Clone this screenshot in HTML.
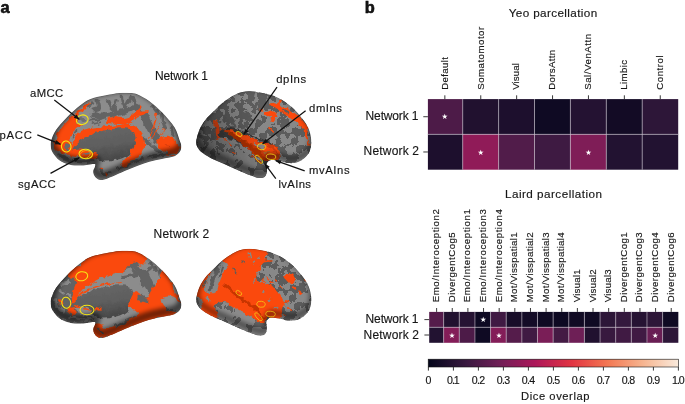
<!DOCTYPE html>
<html><head><meta charset="utf-8"><title>Figure</title>
<style>html,body{margin:0;padding:0;background:#fff}svg{display:block}text{font-family:"Liberation Sans",sans-serif;fill:#161616;stroke:#161616;stroke-width:0.15px}</style></head><body>
<svg width="685" height="404" viewBox="0 0 685 404">
<defs><linearGradient id="cb" x1="0" x2="1" y1="0" y2="0">
<stop offset="0.000" stop-color="#03051a"/>
<stop offset="0.025" stop-color="#0c0820"/>
<stop offset="0.050" stop-color="#140c27"/>
<stop offset="0.075" stop-color="#1d0f2d"/>
<stop offset="0.100" stop-color="#261333"/>
<stop offset="0.125" stop-color="#2f1639"/>
<stop offset="0.150" stop-color="#38193f"/>
<stop offset="0.175" stop-color="#421a44"/>
<stop offset="0.200" stop-color="#4d1b48"/>
<stop offset="0.225" stop-color="#571c4c"/>
<stop offset="0.250" stop-color="#611d51"/>
<stop offset="0.275" stop-color="#6b1f55"/>
<stop offset="0.300" stop-color="#761e57"/>
<stop offset="0.325" stop-color="#811d58"/>
<stop offset="0.350" stop-color="#8b1b58"/>
<stop offset="0.375" stop-color="#961a58"/>
<stop offset="0.400" stop-color="#a11959"/>
<stop offset="0.425" stop-color="#ab1759"/>
<stop offset="0.450" stop-color="#b51b56"/>
<stop offset="0.475" stop-color="#be2052"/>
<stop offset="0.500" stop-color="#c7254e"/>
<stop offset="0.525" stop-color="#d02a49"/>
<stop offset="0.550" stop-color="#d92f45"/>
<stop offset="0.575" stop-color="#e23542"/>
<stop offset="0.600" stop-color="#e54145"/>
<stop offset="0.625" stop-color="#e84c48"/>
<stop offset="0.650" stop-color="#eb584a"/>
<stop offset="0.675" stop-color="#ee644d"/>
<stop offset="0.700" stop-color="#f16f50"/>
<stop offset="0.725" stop-color="#f37b56"/>
<stop offset="0.750" stop-color="#f48661"/>
<stop offset="0.775" stop-color="#f4906b"/>
<stop offset="0.800" stop-color="#f59b76"/>
<stop offset="0.825" stop-color="#f5a681"/>
<stop offset="0.850" stop-color="#f6b18c"/>
<stop offset="0.875" stop-color="#f7bb99"/>
<stop offset="0.900" stop-color="#f7c5a6"/>
<stop offset="0.925" stop-color="#f8ceb4"/>
<stop offset="0.950" stop-color="#f9d8c2"/>
<stop offset="0.975" stop-color="#f9e1cf"/>
<stop offset="1.000" stop-color="#faebdd"/>
</linearGradient></defs>
<rect width="685" height="404" fill="#fff"/>
<text x="0.50" y="12.60" font-size="16.40" font-weight="bold" fill="#000" style="stroke:#000;stroke-width:0.55px">a</text>
<text x="364.80" y="12.80" font-size="16.40" font-weight="bold" fill="#000" style="stroke:#000;stroke-width:0.55px">b</text>
<defs><filter id="texL" x="0" y="0" width="100%" height="100%" color-interpolation-filters="sRGB"><feTurbulence type="fractalNoise" baseFrequency="0.036 0.03" numOctaves="2" seed="7" result="n"/><feColorMatrix in="n" type="matrix" values="0 0 0 0 0  0 0 0 0 0  0 0 0 0 0  1.6 0 0 0 -0.3" result="a"/><feComponentTransfer in="a" result="t"><feFuncA type="discrete" tableValues="0 1"/></feComponentTransfer><feFlood flood-color="#5c5c5c"/><feComposite in2="t" operator="in"/></filter><filter id="texT" x="0" y="0" width="100%" height="100%" color-interpolation-filters="sRGB"><feTurbulence type="fractalNoise" baseFrequency="0.038 0.026" numOctaves="2" seed="11" result="n"/><feColorMatrix in="n" type="matrix" values="0 0 0 0 0  0 0 0 0 0  0 0 0 0 0  1.6 0 0 0 -0.36" result="a"/><feComponentTransfer in="a" result="t"><feFuncA type="discrete" tableValues="0 1"/></feComponentTransfer><feFlood flood-color="#606060"/><feComposite in2="t" operator="in"/></filter><filter id="texM" x="0" y="0" width="100%" height="100%" color-interpolation-filters="sRGB"><feTurbulence type="fractalNoise" baseFrequency="0.02 0.018" numOctaves="2" seed="5" result="n"/><feColorMatrix in="n" type="matrix" values="0 0 0 0 0  0 0 0 0 0  0 0 0 0 0  1.6 0 0 0 -0.3" result="a"/><feComponentTransfer in="a" result="t"><feFuncA type="discrete" tableValues="0 1"/></feComponentTransfer><feFlood flood-color="#646464"/><feComposite in2="t" operator="in"/></filter><filter id="rag" x="-5%" y="-5%" width="110%" height="110%"><feTurbulence type="fractalNoise" baseFrequency="0.045" numOctaves="2" seed="2" result="n"/><feDisplacementMap in="SourceGraphic" in2="n" scale="22" xChannelSelector="R" yChannelSelector="G"/></filter><filter id="blur" x="-20%" y="-20%" width="140%" height="140%"><feGaussianBlur stdDeviation="9"/></filter><radialGradient id="shade1" cx="0.45" cy="0.4" r="0.62"><stop offset="0.6" stop-color="#000" stop-opacity="0"/><stop offset="1" stop-color="#000" stop-opacity="0.45"/></radialGradient><radialGradient id="shade2" cx="0.5" cy="0.4" r="0.62"><stop offset="0.6" stop-color="#000" stop-opacity="0"/><stop offset="1" stop-color="#000" stop-opacity="0.45"/></radialGradient><radialGradient id="shade3" cx="0.45" cy="0.4" r="0.62"><stop offset="0.6" stop-color="#000" stop-opacity="0"/><stop offset="1" stop-color="#000" stop-opacity="0.45"/></radialGradient><radialGradient id="shade4" cx="0.5" cy="0.4" r="0.62"><stop offset="0.6" stop-color="#000" stop-opacity="0"/><stop offset="1" stop-color="#000" stop-opacity="0.45"/></radialGradient><linearGradient id="mwall" x1="0" y1="0" x2="0.3" y2="1"><stop offset="0" stop-color="#696969"/><stop offset="0.6" stop-color="#5e5e5e"/><stop offset="1" stop-color="#4a4a4a"/></linearGradient><linearGradient id="latshade" x1="0" y1="0.6" x2="0.55" y2="0.4"><stop offset="0" stop-color="#000" stop-opacity="0.55"/><stop offset="0.45" stop-color="#000" stop-opacity="0.25"/><stop offset="1" stop-color="#000" stop-opacity="0"/></linearGradient></defs><g transform="translate(35 86) scale(0.25)"><clipPath id="clip1"><path d="M63.0,240.0 C62.3,231.5 62.5,224.7 66.0,214.0 C69.5,203.3 73.7,190.8 84.0,176.0 C94.3,161.2 112.0,141.3 128.0,125.0 C144.0,108.7 164.3,90.2 180.0,78.0 C195.7,65.8 204.8,58.8 222.0,52.0 C239.2,45.2 263.7,41.0 283.0,37.0 C302.3,33.0 321.8,29.5 338.0,28.0 C354.2,26.5 368.2,27.2 380.0,28.0 C391.8,28.8 396.0,27.5 409.0,33.0 C422.0,38.5 441.5,49.0 458.0,61.0 C474.5,73.0 491.3,87.7 508.0,105.0 C524.7,122.3 546.3,146.5 558.0,165.0 C569.7,183.5 573.5,203.8 578.0,216.0 C582.5,228.2 584.5,230.7 585.0,238.0 C585.5,245.3 585.5,252.8 581.0,260.0 C576.5,267.2 570.2,275.7 558.0,281.0 C545.8,286.3 524.7,288.3 508.0,292.0 C491.3,295.7 474.5,298.3 458.0,303.0 C441.5,307.7 425.5,313.8 409.0,320.0 C392.5,326.2 375.5,333.0 359.0,340.0 C342.5,347.0 324.8,356.0 310.0,362.0 C295.2,368.0 280.0,374.3 270.0,376.0 C260.0,377.7 255.5,375.0 250.0,372.0 C244.5,369.0 239.8,363.3 237.0,358.0 C234.2,352.7 232.5,346.0 233.0,340.0 C233.5,334.0 239.5,326.7 240.0,322.0 C240.5,317.3 244.5,312.7 236.0,312.0 C227.5,311.3 205.2,317.5 189.0,318.0 C172.8,318.5 154.3,318.5 139.0,315.0 C123.7,311.5 108.5,305.3 97.0,297.0 C85.5,288.7 75.7,274.5 70.0,265.0 C64.3,255.5 63.7,248.5 63.0,240.0Z"/></clipPath><g clip-path="url(#clip1)"><path d="M63.0,240.0 C62.3,231.5 62.5,224.7 66.0,214.0 C69.5,203.3 73.7,190.8 84.0,176.0 C94.3,161.2 112.0,141.3 128.0,125.0 C144.0,108.7 164.3,90.2 180.0,78.0 C195.7,65.8 204.8,58.8 222.0,52.0 C239.2,45.2 263.7,41.0 283.0,37.0 C302.3,33.0 321.8,29.5 338.0,28.0 C354.2,26.5 368.2,27.2 380.0,28.0 C391.8,28.8 396.0,27.5 409.0,33.0 C422.0,38.5 441.5,49.0 458.0,61.0 C474.5,73.0 491.3,87.7 508.0,105.0 C524.7,122.3 546.3,146.5 558.0,165.0 C569.7,183.5 573.5,203.8 578.0,216.0 C582.5,228.2 584.5,230.7 585.0,238.0 C585.5,245.3 585.5,252.8 581.0,260.0 C576.5,267.2 570.2,275.7 558.0,281.0 C545.8,286.3 524.7,288.3 508.0,292.0 C491.3,295.7 474.5,298.3 458.0,303.0 C441.5,307.7 425.5,313.8 409.0,320.0 C392.5,326.2 375.5,333.0 359.0,340.0 C342.5,347.0 324.8,356.0 310.0,362.0 C295.2,368.0 280.0,374.3 270.0,376.0 C260.0,377.7 255.5,375.0 250.0,372.0 C244.5,369.0 239.8,363.3 237.0,358.0 C234.2,352.7 232.5,346.0 233.0,340.0 C233.5,334.0 239.5,326.7 240.0,322.0 C240.5,317.3 244.5,312.7 236.0,312.0 C227.5,311.3 205.2,317.5 189.0,318.0 C172.8,318.5 154.3,318.5 139.0,315.0 C123.7,311.5 108.5,305.3 97.0,297.0 C85.5,288.7 75.7,274.5 70.0,265.0 C64.3,255.5 63.7,248.5 63.0,240.0Z" fill="#8c8c8c"/><g filter="url(#rag)"><path d="M250.0,62.0 C251.0,65.8 256.7,78.7 256.0,85.0 C255.3,91.3 247.7,97.5 246.0,100.0" fill="none" stroke="#646464" stroke-width="16" stroke-linecap="round" stroke-linejoin="round"/>
<path d="M256.0,85.0 L232.0,92.0" fill="none" stroke="#646464" stroke-width="12" stroke-linecap="round" stroke-linejoin="round"/>
<path d="M290.0,58.0 C291.7,61.7 295.3,73.3 300.0,80.0 C304.7,86.7 315.0,95.0 318.0,98.0" fill="none" stroke="#646464" stroke-width="14" stroke-linecap="round" stroke-linejoin="round"/>
<path d="M325.0,58.0 C323.8,61.7 319.2,73.3 318.0,80.0 C316.8,86.7 318.0,95.0 318.0,98.0" fill="none" stroke="#646464" stroke-width="12" stroke-linecap="round" stroke-linejoin="round"/>
<path d="M345.0,40.0 C346.2,45.0 349.2,62.0 352.0,70.0 C354.8,78.0 360.3,85.0 362.0,88.0" fill="none" stroke="#646464" stroke-width="13" stroke-linecap="round" stroke-linejoin="round"/>
<path d="M385.0,42.0 C382.8,46.0 375.8,58.3 372.0,66.0 C368.2,73.7 363.7,84.3 362.0,88.0" fill="none" stroke="#646464" stroke-width="13" stroke-linecap="round" stroke-linejoin="round"/>
<path d="M392.0,50.0 C395.0,55.8 404.0,74.7 410.0,85.0 C416.0,95.3 425.0,107.5 428.0,112.0" fill="none" stroke="#646464" stroke-width="20" stroke-linecap="round" stroke-linejoin="round"/>
<path d="M232.0,118.0 C240.0,117.7 263.7,117.3 280.0,116.0 C296.3,114.7 314.7,113.3 330.0,110.0 C345.3,106.7 359.5,101.0 372.0,96.0 C384.5,91.0 399.5,82.7 405.0,80.0" fill="none" stroke="#646464" stroke-width="22" stroke-linecap="round" stroke-linejoin="round"/>
<path d="M436.0,118.0 C438.7,123.3 446.3,138.8 452.0,150.0 C457.7,161.2 463.7,174.2 470.0,185.0 C476.3,195.8 486.7,210.0 490.0,215.0" fill="none" stroke="#646464" stroke-width="30" stroke-linecap="round" stroke-linejoin="round"/>
<path d="M470.0,80.0 L492.0,110.0" fill="none" stroke="#646464" stroke-width="12" stroke-linecap="round" stroke-linejoin="round"/>
<path d="M505.0,112.0 C506.2,116.7 509.5,131.2 512.0,140.0 C514.5,148.8 518.7,160.8 520.0,165.0" fill="none" stroke="#646464" stroke-width="14" stroke-linecap="round" stroke-linejoin="round"/>
<path d="M545.0,170.0 L552.0,200.0" fill="none" stroke="#646464" stroke-width="12" stroke-linecap="round" stroke-linejoin="round"/>
<path d="M440.0,215.0 C445.0,219.2 460.0,232.2 470.0,240.0 C480.0,247.8 495.0,258.3 500.0,262.0" fill="none" stroke="#646464" stroke-width="16" stroke-linecap="round" stroke-linejoin="round"/>
<path d="M215.0,80.0 L232.0,70.0" fill="none" stroke="#646464" stroke-width="10" stroke-linecap="round" stroke-linejoin="round"/>
<path d="M95.0,275.0 C102.5,278.7 124.2,292.3 140.0,297.0 C155.8,301.7 174.7,302.8 190.0,303.0 C205.3,303.2 225.0,298.8 232.0,298.0" fill="none" stroke="#646464" stroke-width="12" stroke-linecap="round" stroke-linejoin="round"/>
<path d="M262.0,330.0 C264.2,333.3 268.7,346.7 275.0,350.0 C281.3,353.3 295.8,350.0 300.0,350.0" fill="none" stroke="#646464" stroke-width="12" stroke-linecap="round" stroke-linejoin="round"/>
<path d="M330.0,330.0 C338.3,326.7 363.3,316.3 380.0,310.0 C396.7,303.7 421.7,295.0 430.0,292.0" fill="none" stroke="#646464" stroke-width="10" stroke-linecap="round" stroke-linejoin="round"/>
<path d="M450.0,285.0 C458.3,283.8 483.3,280.5 500.0,278.0 C516.7,275.5 541.7,271.3 550.0,270.0" fill="none" stroke="#646464" stroke-width="8" stroke-linecap="round" stroke-linejoin="round"/>
<path d="M76.0,240.0 C77.3,228.3 84.0,201.7 94.0,184.0 C104.0,166.3 120.7,150.0 136.0,134.0 C151.3,118.0 172.0,100.0 186.0,88.0 C200.0,76.0 215.3,63.7 220.0,62.0 C224.7,60.3 218.0,71.7 214.0,78.0 C210.0,84.3 203.0,94.3 196.0,100.0 C189.0,105.7 177.3,106.2 172.0,112.0 C166.7,117.8 163.0,128.3 164.0,135.0 C165.0,141.7 171.7,148.5 178.0,152.0 C184.3,155.5 201.3,153.7 202.0,156.0 C202.7,158.3 189.0,161.3 182.0,166.0 C175.0,170.7 166.2,177.5 160.0,184.0 C153.8,190.5 148.7,198.2 145.0,205.0 C141.3,211.8 137.8,217.5 138.0,225.0 C138.2,232.5 142.3,243.8 146.0,250.0 C149.7,256.2 154.0,256.3 160.0,262.0 C166.0,267.7 185.3,281.0 182.0,284.0 C178.7,287.0 153.0,283.0 140.0,280.0 C127.0,277.0 113.0,270.3 104.0,266.0 C95.0,261.7 90.7,258.3 86.0,254.0 C81.3,249.7 74.7,251.7 76.0,240.0Z" fill="#fa4a0a"/>
<path d="M145.0,223.0 C147.3,217.2 151.5,197.8 159.0,188.0 C166.5,178.2 177.7,170.2 190.0,164.0 C202.3,157.8 216.5,155.0 233.0,151.0 C249.5,147.0 279.7,141.8 289.0,140.0" fill="none" stroke="#8c8c8c" stroke-width="15" stroke-linecap="round" stroke-linejoin="round"/>
<path d="M150.0,205.0 L166.0,180.0" fill="none" stroke="#646464" stroke-width="7" stroke-linecap="round" stroke-linejoin="round"/>
<path d="M230.0,153.0 L262.0,145.0" fill="none" stroke="#646464" stroke-width="7" stroke-linecap="round" stroke-linejoin="round"/>
<path d="M140.0,244.0 C140.2,237.2 147.3,230.5 153.0,221.0 C158.7,211.5 164.5,195.3 174.0,187.0 C183.5,178.7 196.7,175.0 210.0,171.0 C223.3,167.0 238.7,165.0 254.0,163.0 C269.3,161.0 284.3,160.3 302.0,159.0 C319.7,157.7 343.3,154.5 360.0,155.0 C376.7,155.5 390.3,154.8 402.0,162.0 C413.7,169.2 423.7,185.0 430.0,198.0 C436.3,211.0 441.7,226.7 440.0,240.0 C438.3,253.3 428.7,267.7 420.0,278.0 C411.3,288.3 401.3,294.7 388.0,302.0 C374.7,309.3 342.7,326.0 340.0,322.0 C337.3,318.0 362.7,291.7 372.0,278.0 C381.3,264.3 391.7,252.2 396.0,240.0 C400.3,227.8 401.0,214.7 398.0,205.0 C395.0,195.3 389.3,187.2 378.0,182.0 C366.7,176.8 349.7,173.3 330.0,174.0 C310.3,174.7 281.7,180.0 260.0,186.0 C238.3,192.0 215.8,201.3 200.0,210.0 C184.2,218.7 173.0,229.3 165.0,238.0 C157.0,246.7 156.2,261.0 152.0,262.0 C147.8,263.0 139.8,250.8 140.0,244.0Z" fill="#fa4a0a"/>
<path d="M218.0,138.0 C223.3,137.3 238.8,136.3 250.0,134.0 C261.2,131.7 279.2,125.7 285.0,124.0" fill="none" stroke="#646464" stroke-width="10" stroke-linecap="round" stroke-linejoin="round"/>
<path d="M195.0,98.0 L215.0,92.0" fill="none" stroke="#8c8c8c" stroke-width="6" stroke-linecap="round" stroke-linejoin="round"/>
<path d="M150.0,258.0 C147.5,254.3 156.7,240.8 165.0,232.0 C173.3,223.2 184.2,213.3 200.0,205.0 C215.8,196.7 238.3,187.8 260.0,182.0 C281.7,176.2 309.2,171.3 330.0,170.0 C350.8,168.7 373.0,168.2 385.0,174.0 C397.0,179.8 400.2,193.2 402.0,205.0 C403.8,216.8 401.0,233.3 396.0,245.0 C391.0,256.7 381.3,267.2 372.0,275.0 C362.7,282.8 353.7,287.5 340.0,292.0 C326.3,296.5 305.0,301.3 290.0,302.0 C275.0,302.7 259.0,301.0 250.0,296.0 C241.0,291.0 241.3,278.7 236.0,272.0 C230.7,265.3 227.3,259.0 218.0,256.0 C208.7,253.0 191.3,253.7 180.0,254.0 C168.7,254.3 152.5,261.7 150.0,258.0Z" fill="url(#mwall)"/>
<path d="M150.0,258.0 C151.2,252.3 172.5,249.3 185.0,250.0 C197.5,250.7 214.2,259.0 225.0,262.0 C235.8,265.0 246.7,263.3 250.0,268.0 C253.3,272.7 251.7,286.3 245.0,290.0 C238.3,293.7 221.2,291.0 210.0,290.0 C198.8,289.0 188.0,289.3 178.0,284.0 C168.0,278.7 148.8,263.7 150.0,258.0Z" fill="#fa4a0a"/>
<ellipse cx="127" cy="243" rx="10" ry="14" fill="#6a6a6a"/>
<path d="M178.0,128.0 L198.0,140.0" fill="none" stroke="#6e6e6e" stroke-width="14" stroke-linecap="round" stroke-linejoin="round"/>
<path d="M196.0,274.0 L215.0,268.0" fill="none" stroke="#777" stroke-width="7" stroke-linecap="round" stroke-linejoin="round"/>
<path d="M285.0,140.0 C288.3,135.8 297.7,125.0 310.0,123.0 C322.3,121.0 345.8,129.3 359.0,128.0 C372.2,126.7 379.8,121.3 389.0,115.0 C398.2,108.7 407.8,95.8 414.0,90.0 C420.2,84.2 424.0,78.7 426.0,80.0 C428.0,81.3 421.8,95.0 426.0,98.0 C430.2,101.0 449.7,95.2 451.0,98.0 C452.3,100.8 441.8,110.8 434.0,115.0 C426.2,119.2 411.7,117.8 404.0,123.0 C396.3,128.2 395.0,140.7 388.0,146.0 C381.0,151.3 372.7,154.2 362.0,155.0 C351.3,155.8 336.0,152.2 324.0,151.0 C312.0,149.8 296.5,149.8 290.0,148.0 C283.5,146.2 281.7,144.2 285.0,140.0Z" fill="#fa4a0a"/>
<path d="M485.0,108.0 C484.5,113.3 484.5,128.8 482.0,140.0 C479.5,151.2 474.3,164.2 470.0,175.0 C465.7,185.8 458.3,200.0 456.0,205.0" fill="none" stroke="#fa4a0a" stroke-width="6" stroke-linecap="round" stroke-linejoin="round"/>
<path d="M498.0,150.0 C495.0,156.7 485.3,180.0 480.0,190.0 C474.7,200.0 468.3,206.7 466.0,210.0" fill="none" stroke="#fa4a0a" stroke-width="4" stroke-linecap="round" stroke-linejoin="round"/>
<path d="M520.0,170.0 L500.0,200.0" fill="none" stroke="#fa4a0a" stroke-width="3" stroke-linecap="round" stroke-linejoin="round"/>
<path d="M486.0,222.0 C488.0,215.2 501.8,208.7 510.0,205.0 C518.2,201.3 526.7,197.5 535.0,200.0 C543.3,202.5 552.7,212.3 560.0,220.0 C567.3,227.7 577.7,238.3 579.0,246.0 C580.3,253.7 573.7,261.8 568.0,266.0 C562.3,270.2 553.0,271.7 545.0,271.0 C537.0,270.3 527.8,266.2 520.0,262.0 C512.2,257.8 503.7,252.7 498.0,246.0 C492.3,239.3 484.0,228.8 486.0,222.0Z" fill="#fa4a0a"/>
<path d="M520.0,235.0 L545.0,238.0" fill="none" stroke="#d63c08" stroke-width="5" stroke-linecap="round" stroke-linejoin="round"/>
<path d="M530.0,275.0 L555.0,282.0" fill="none" stroke="#fa4a0a" stroke-width="5" stroke-linecap="round" stroke-linejoin="round"/>
<path d="M345.0,316.0 C349.2,313.3 361.7,305.2 370.0,300.0 C378.3,294.8 390.8,287.5 395.0,285.0" fill="none" stroke="#fa4a0a" stroke-width="7" stroke-linecap="round" stroke-linejoin="round"/>
<path d="M282.0,345.0 C283.0,343.7 291.3,347.8 292.0,350.0 C292.7,352.2 287.7,358.8 286.0,358.0 C284.3,357.2 281.0,346.3 282.0,345.0Z" fill="#fa4a0a"/>
<path d="M262.0,322.0 C263.0,321.0 269.7,324.3 270.0,326.0 C270.3,327.7 265.3,332.7 264.0,332.0 C262.7,331.3 261.0,323.0 262.0,322.0Z" fill="#fa4a0a"/></g><g filter="url(#blur)" opacity="0.55"><path d="M63.0,240.0 C62.3,231.5 62.5,224.7 66.0,214.0 C69.5,203.3 73.7,190.8 84.0,176.0 C94.3,161.2 112.0,141.3 128.0,125.0 C144.0,108.7 164.3,90.2 180.0,78.0 C195.7,65.8 204.8,58.8 222.0,52.0 C239.2,45.2 263.7,41.0 283.0,37.0 C302.3,33.0 321.8,29.5 338.0,28.0 C354.2,26.5 368.2,27.2 380.0,28.0 C391.8,28.8 396.0,27.5 409.0,33.0 C422.0,38.5 441.5,49.0 458.0,61.0 C474.5,73.0 491.3,87.7 508.0,105.0 C524.7,122.3 546.3,146.5 558.0,165.0 C569.7,183.5 573.5,203.8 578.0,216.0 C582.5,228.2 584.5,230.7 585.0,238.0 C585.5,245.3 585.5,252.8 581.0,260.0 C576.5,267.2 570.2,275.7 558.0,281.0 C545.8,286.3 524.7,288.3 508.0,292.0 C491.3,295.7 474.5,298.3 458.0,303.0 C441.5,307.7 425.5,313.8 409.0,320.0 C392.5,326.2 375.5,333.0 359.0,340.0 C342.5,347.0 324.8,356.0 310.0,362.0 C295.2,368.0 280.0,374.3 270.0,376.0 C260.0,377.7 255.5,375.0 250.0,372.0 C244.5,369.0 239.8,363.3 237.0,358.0 C234.2,352.7 232.5,346.0 233.0,340.0 C233.5,334.0 239.5,326.7 240.0,322.0 C240.5,317.3 244.5,312.7 236.0,312.0 C227.5,311.3 205.2,317.5 189.0,318.0 C172.8,318.5 154.3,318.5 139.0,315.0 C123.7,311.5 108.5,305.3 97.0,297.0 C85.5,288.7 75.7,274.5 70.0,265.0 C64.3,255.5 63.7,248.5 63.0,240.0Z" fill="none" stroke="#000" stroke-width="34" transform="translate(3 -19)"/></g><path d="M63.0,240.0 C62.3,231.5 62.5,224.7 66.0,214.0 C69.5,203.3 73.7,190.8 84.0,176.0 C94.3,161.2 112.0,141.3 128.0,125.0 C144.0,108.7 164.3,90.2 180.0,78.0 C195.7,65.8 204.8,58.8 222.0,52.0 C239.2,45.2 263.7,41.0 283.0,37.0 C302.3,33.0 321.8,29.5 338.0,28.0 C354.2,26.5 368.2,27.2 380.0,28.0 C391.8,28.8 396.0,27.5 409.0,33.0 C422.0,38.5 441.5,49.0 458.0,61.0 C474.5,73.0 491.3,87.7 508.0,105.0 C524.7,122.3 546.3,146.5 558.0,165.0 C569.7,183.5 573.5,203.8 578.0,216.0 C582.5,228.2 584.5,230.7 585.0,238.0 C585.5,245.3 585.5,252.8 581.0,260.0 C576.5,267.2 570.2,275.7 558.0,281.0 C545.8,286.3 524.7,288.3 508.0,292.0 C491.3,295.7 474.5,298.3 458.0,303.0 C441.5,307.7 425.5,313.8 409.0,320.0 C392.5,326.2 375.5,333.0 359.0,340.0 C342.5,347.0 324.8,356.0 310.0,362.0 C295.2,368.0 280.0,374.3 270.0,376.0 C260.0,377.7 255.5,375.0 250.0,372.0 C244.5,369.0 239.8,363.3 237.0,358.0 C234.2,352.7 232.5,346.0 233.0,340.0 C233.5,334.0 239.5,326.7 240.0,322.0 C240.5,317.3 244.5,312.7 236.0,312.0 C227.5,311.3 205.2,317.5 189.0,318.0 C172.8,318.5 154.3,318.5 139.0,315.0 C123.7,311.5 108.5,305.3 97.0,297.0 C85.5,288.7 75.7,274.5 70.0,265.0 C64.3,255.5 63.7,248.5 63.0,240.0Z" fill="none" stroke="#000" stroke-opacity="0.25" stroke-width="3"/></g><ellipse cx="189" cy="135" rx="24" ry="19" transform="rotate(-15 189 135)" fill="none" stroke="#f6e814" stroke-width="4.2"/><ellipse cx="125" cy="242" rx="19" ry="22" transform="rotate(-10 125 242)" fill="none" stroke="#f6e814" stroke-width="4.2"/><ellipse cx="203" cy="272" rx="27" ry="19" transform="rotate(5 203 272)" fill="none" stroke="#f6e814" stroke-width="4.2"/><ellipse cx="200" cy="274" rx="22" ry="15" transform="rotate(-20 200 274)" fill="none" stroke="#f6e814" stroke-width="2"/></g><g transform="translate(190 86) scale(0.25)"><clipPath id="clip2"><path d="M25.0,228.0 C24.7,221.3 25.5,214.7 28.0,205.0 C30.5,195.3 34.3,181.7 40.0,170.0 C45.7,158.3 52.7,146.7 62.0,135.0 C71.3,123.3 83.7,112.0 96.0,100.0 C108.3,88.0 121.0,74.3 136.0,63.0 C151.0,51.7 169.5,39.0 186.0,32.0 C202.5,25.0 217.7,21.7 235.0,21.0 C252.3,20.3 270.5,23.7 290.0,28.0 C309.5,32.3 332.0,37.2 352.0,47.0 C372.0,56.8 393.7,72.8 410.0,87.0 C426.3,101.2 439.2,117.8 450.0,132.0 C460.8,146.2 469.2,158.2 475.0,172.0 C480.8,185.8 483.8,201.7 485.0,215.0 C486.2,228.3 485.3,240.8 482.0,252.0 C478.7,263.2 473.7,273.2 465.0,282.0 C456.3,290.8 442.3,300.7 430.0,305.0 C417.7,309.3 403.3,308.8 391.0,308.0 C378.7,307.2 367.7,301.8 356.0,300.0 C344.3,298.2 329.3,295.0 321.0,297.0 C312.7,299.0 308.2,304.8 306.0,312.0 C303.8,319.2 309.0,331.7 308.0,340.0 C307.0,348.3 305.0,357.3 300.0,362.0 C295.0,366.7 288.0,368.8 278.0,368.0 C268.0,367.2 254.7,362.3 240.0,357.0 C225.3,351.7 206.8,343.3 190.0,336.0 C173.2,328.7 156.7,320.8 139.0,313.0 C121.3,305.2 99.8,297.3 84.0,289.0 C68.2,280.7 53.0,270.3 44.0,263.0 C35.0,255.7 33.2,250.8 30.0,245.0 C26.8,239.2 25.3,234.7 25.0,228.0Z"/></clipPath><g clip-path="url(#clip2)"><path d="M25.0,228.0 C24.7,221.3 25.5,214.7 28.0,205.0 C30.5,195.3 34.3,181.7 40.0,170.0 C45.7,158.3 52.7,146.7 62.0,135.0 C71.3,123.3 83.7,112.0 96.0,100.0 C108.3,88.0 121.0,74.3 136.0,63.0 C151.0,51.7 169.5,39.0 186.0,32.0 C202.5,25.0 217.7,21.7 235.0,21.0 C252.3,20.3 270.5,23.7 290.0,28.0 C309.5,32.3 332.0,37.2 352.0,47.0 C372.0,56.8 393.7,72.8 410.0,87.0 C426.3,101.2 439.2,117.8 450.0,132.0 C460.8,146.2 469.2,158.2 475.0,172.0 C480.8,185.8 483.8,201.7 485.0,215.0 C486.2,228.3 485.3,240.8 482.0,252.0 C478.7,263.2 473.7,273.2 465.0,282.0 C456.3,290.8 442.3,300.7 430.0,305.0 C417.7,309.3 403.3,308.8 391.0,308.0 C378.7,307.2 367.7,301.8 356.0,300.0 C344.3,298.2 329.3,295.0 321.0,297.0 C312.7,299.0 308.2,304.8 306.0,312.0 C303.8,319.2 309.0,331.7 308.0,340.0 C307.0,348.3 305.0,357.3 300.0,362.0 C295.0,366.7 288.0,368.8 278.0,368.0 C268.0,367.2 254.7,362.3 240.0,357.0 C225.3,351.7 206.8,343.3 190.0,336.0 C173.2,328.7 156.7,320.8 139.0,313.0 C121.3,305.2 99.8,297.3 84.0,289.0 C68.2,280.7 53.0,270.3 44.0,263.0 C35.0,255.7 33.2,250.8 30.0,245.0 C26.8,239.2 25.3,234.7 25.0,228.0Z" fill="#888888"/><g filter="url(#rag)"><g><rect x="0" y="0" width="620" height="400" fill="#000" filter="url(#texL)"/></g>
<path d="M51.8,204.7 C48.3,203.4 36.4,197.9 30.9,196.9 C25.4,195.9 20.7,198.5 18.7,198.8" fill="none" stroke="#5c5c5c" stroke-width="12.6235" stroke-linecap="round" stroke-linejoin="round"/>
<path d="M226.4,135.7 C227.1,133.1 230.5,125.4 230.9,120.4 C231.3,115.4 229.1,108.1 228.8,105.7" fill="none" stroke="#5c5c5c" stroke-width="14.9739" stroke-linecap="round" stroke-linejoin="round"/>
<path d="M178.8,160.6 C177.8,157.8 175.8,149.9 173.2,143.7 C170.5,137.5 164.5,126.8 162.7,123.4" fill="none" stroke="#5c5c5c" stroke-width="14.2083" stroke-linecap="round" stroke-linejoin="round"/>
<path d="M24.6,260.0 C22.6,261.9 17.7,267.5 12.4,271.4 C7.2,275.3 -3.8,281.4 -7.0,283.4" fill="none" stroke="#5c5c5c" stroke-width="10.8076" stroke-linecap="round" stroke-linejoin="round"/>
<path d="M169.7,60.5 C169.2,57.0 168.9,46.3 166.9,39.5 C165.0,32.6 159.6,22.8 158.1,19.5" fill="none" stroke="#5c5c5c" stroke-width="14.5266" stroke-linecap="round" stroke-linejoin="round"/>
<path d="M296.7,60.2 C297.9,57.9 303.0,50.8 303.8,46.5 C304.7,42.1 302.0,36.2 301.6,34.1" fill="none" stroke="#5c5c5c" stroke-width="9.81581" stroke-linecap="round" stroke-linejoin="round"/>
<path d="M165.0,140.6 C163.6,138.1 159.5,130.9 156.3,125.6 C153.1,120.3 147.6,111.6 145.8,108.8" fill="none" stroke="#5c5c5c" stroke-width="11.3152" stroke-linecap="round" stroke-linejoin="round"/>
<path d="M257.6,88.7 C260.0,84.7 267.9,71.8 272.2,65.0 C276.5,58.2 281.6,50.9 283.4,48.1" fill="none" stroke="#5c5c5c" stroke-width="14.1384" stroke-linecap="round" stroke-linejoin="round"/>
<path d="M249.1,49.5 C249.7,46.3 250.7,37.6 252.9,30.0 C255.1,22.4 260.9,8.3 262.5,3.9" fill="none" stroke="#5c5c5c" stroke-width="12.4146" stroke-linecap="round" stroke-linejoin="round"/>
<path d="M144.5,145.8 C143.2,144.2 137.9,140.6 136.6,136.5 C135.3,132.4 136.9,123.8 136.9,121.3" fill="none" stroke="#5c5c5c" stroke-width="14.1237" stroke-linecap="round" stroke-linejoin="round"/>
<path d="M134.1,184.2 C131.4,182.5 122.0,177.9 118.2,174.3 C114.5,170.6 112.6,164.1 111.5,162.0" fill="none" stroke="#5c5c5c" stroke-width="13.6128" stroke-linecap="round" stroke-linejoin="round"/>
<path d="M35.8,275.2 C33.1,276.3 25.0,281.4 19.6,282.1 C14.3,282.7 6.1,279.5 3.4,279.0" fill="none" stroke="#5c5c5c" stroke-width="14.2854" stroke-linecap="round" stroke-linejoin="round"/>
<path d="M143.9,197.3 C140.5,197.1 129.9,197.0 123.3,196.3 C116.7,195.6 107.7,193.6 104.5,193.1" fill="none" stroke="#5c5c5c" stroke-width="9.18827" stroke-linecap="round" stroke-linejoin="round"/>
<path d="M150.3,226.2 C147.1,225.4 138.9,222.5 131.2,221.2 C123.6,220.0 108.8,219.2 104.3,218.7" fill="none" stroke="#5c5c5c" stroke-width="10.883" stroke-linecap="round" stroke-linejoin="round"/>
<path d="M93.5,146.3 C91.2,144.8 84.5,141.8 79.4,137.3 C74.3,132.9 65.6,122.5 62.8,119.5" fill="none" stroke="#5c5c5c" stroke-width="12.5739" stroke-linecap="round" stroke-linejoin="round"/>
<path d="M120.6,143.4 C118.7,141.2 114.4,134.7 108.9,130.1 C103.3,125.6 91.1,118.7 87.5,116.4" fill="none" stroke="#5c5c5c" stroke-width="10.4258" stroke-linecap="round" stroke-linejoin="round"/>
<path d="M178.6,176.9 C176.4,175.4 170.3,171.4 165.6,168.0 C160.9,164.6 152.9,158.5 150.3,156.5" fill="none" stroke="#5c5c5c" stroke-width="12.4798" stroke-linecap="round" stroke-linejoin="round"/>
<path d="M48.3,258.9 C45.9,260.7 39.5,266.6 34.1,269.3 C28.7,271.9 18.9,273.9 15.8,274.8" fill="none" stroke="#5c5c5c" stroke-width="13.0757" stroke-linecap="round" stroke-linejoin="round"/>
<path d="M150.1,233.4 C147.2,235.6 138.3,242.3 132.7,246.3 C127.0,250.3 118.9,255.6 116.1,257.4" fill="none" stroke="#5c5c5c" stroke-width="14.7798" stroke-linecap="round" stroke-linejoin="round"/>
<path d="M89.7,187.1 C86.9,186.0 77.7,182.0 72.8,180.1 C67.8,178.1 61.9,176.2 59.8,175.5" fill="none" stroke="#5c5c5c" stroke-width="11.2149" stroke-linecap="round" stroke-linejoin="round"/>
<path d="M212.4,171.1 C211.3,168.4 207.2,161.4 206.0,155.0 C204.8,148.7 205.3,136.6 205.2,132.9" fill="none" stroke="#5c5c5c" stroke-width="13.411" stroke-linecap="round" stroke-linejoin="round"/>
<path d="M118.1,204.0 C114.9,204.1 104.7,203.9 98.8,204.7 C93.0,205.6 85.7,208.1 83.1,208.8" fill="none" stroke="#5c5c5c" stroke-width="13.1884" stroke-linecap="round" stroke-linejoin="round"/>
<path d="M356.0,53.0 C359.3,50.7 369.3,54.0 371.0,58.0 C372.7,62.0 359.5,69.7 366.0,77.0 C372.5,84.3 396.8,92.8 410.0,102.0 C423.2,111.2 434.7,121.2 445.0,132.0 C455.3,142.8 468.2,157.0 472.0,167.0 C475.8,177.0 470.5,185.5 468.0,192.0 C465.5,198.5 459.5,209.7 457.0,206.0 C454.5,202.3 458.3,179.8 453.0,170.0 C447.7,160.2 435.2,155.2 425.0,147.0 C414.8,138.8 404.2,129.3 392.0,121.0 C379.8,112.7 363.7,104.5 352.0,97.0 C340.3,89.5 325.2,80.8 322.0,76.0 C318.8,71.2 328.2,68.7 333.0,68.0 C337.8,67.3 347.2,74.5 351.0,72.0 C354.8,69.5 352.7,55.3 356.0,53.0Z" fill="#fa4a0a"/>
<path d="M372.0,98.0 L392.0,110.0" fill="none" stroke="#5c5c5c" stroke-width="6" stroke-linecap="round" stroke-linejoin="round"/>
<path d="M430.0,150.0 L440.0,160.0" fill="none" stroke="#888888" stroke-width="6" stroke-linecap="round" stroke-linejoin="round"/>
<path d="M296.0,105.0 C297.2,101.3 308.5,98.2 315.0,98.0 C321.5,97.8 329.2,100.7 335.0,104.0 C340.8,107.3 349.2,112.8 350.0,118.0 C350.8,123.2 344.7,131.3 340.0,135.0 C335.3,138.7 324.0,141.7 322.0,140.0 C320.0,138.3 330.3,128.3 328.0,125.0 C325.7,121.7 313.3,123.3 308.0,120.0 C302.7,116.7 294.8,108.7 296.0,105.0Z" fill="#fa4a0a"/>
<path d="M312.0,165.0 L330.0,180.0" fill="none" stroke="#fa4a0a" stroke-width="5" stroke-linecap="round" stroke-linejoin="round"/>
<path d="M285.0,92.0 L290.0,98.0" fill="none" stroke="#fa4a0a" stroke-width="6" stroke-linecap="round" stroke-linejoin="round"/>
<path d="M462.0,192.0 L478.0,235.0" fill="none" stroke="#fa4a0a" stroke-width="7" stroke-linecap="round" stroke-linejoin="round"/>
<path d="M104.0,142.0 C105.0,147.5 108.3,163.3 110.0,175.0 C111.7,186.7 113.3,205.8 114.0,212.0" fill="none" stroke="#e4440c" stroke-width="16" stroke-linecap="round" stroke-linejoin="round"/>
<path d="M108.0,205.0 L128.0,218.0" fill="none" stroke="#e4440c" stroke-width="11" stroke-linecap="round" stroke-linejoin="round"/>
<path d="M122.0,165.0 L128.0,195.0" fill="none" stroke="#fa4a0a" stroke-width="5" stroke-linecap="round" stroke-linejoin="round"/>
<path d="M120.0,180.0 C126.7,174.5 146.7,171.2 160.0,172.0 C173.3,172.8 185.0,178.7 200.0,185.0 C215.0,191.3 233.3,202.2 250.0,210.0 C266.7,217.8 285.8,227.8 300.0,232.0 C314.2,236.2 326.3,230.0 335.0,235.0 C343.7,240.0 351.2,251.5 352.0,262.0 C352.8,272.5 347.7,289.7 340.0,298.0 C332.3,306.3 317.7,313.3 306.0,312.0 C294.3,310.7 283.5,300.3 270.0,290.0 C256.5,279.7 241.7,262.5 225.0,250.0 C208.3,237.5 187.5,222.5 170.0,215.0 C152.5,207.5 128.3,210.8 120.0,205.0 C111.7,199.2 113.3,185.5 120.0,180.0Z" fill="#3e3e3e"/>
<path d="M140.0,172.0 C143.7,171.0 152.5,172.7 160.0,174.0 C167.5,175.3 174.2,176.0 185.0,180.0 C195.8,184.0 212.2,192.2 225.0,198.0 C237.8,203.8 249.5,209.7 262.0,215.0 C274.5,220.3 288.7,228.2 300.0,230.0 C311.3,231.8 321.7,222.7 330.0,226.0 C338.3,229.3 345.3,239.7 350.0,250.0 C354.7,260.3 360.5,280.0 358.0,288.0 C355.5,296.0 342.7,296.0 335.0,298.0 C327.3,300.0 318.5,300.0 312.0,300.0 C305.5,300.0 303.0,300.7 296.0,298.0 C289.0,295.3 279.3,290.0 270.0,284.0 C260.7,278.0 250.8,271.0 240.0,262.0 C229.2,253.0 216.3,239.7 205.0,230.0 C193.7,220.3 181.2,211.0 172.0,204.0 C162.8,197.0 155.7,192.0 150.0,188.0 C144.3,184.0 139.7,182.7 138.0,180.0 C136.3,177.3 136.3,173.0 140.0,172.0Z" fill="#d03c08"/>
<path d="M168.0,184.0 C175.0,187.2 194.3,195.7 210.0,203.0 C225.7,210.3 246.2,220.2 262.0,228.0 C277.8,235.8 292.8,242.7 305.0,250.0 C317.2,257.3 330.0,268.3 335.0,272.0" fill="none" stroke="#fa4a0a" stroke-width="17" stroke-linecap="round" stroke-linejoin="round"/>
<path d="M165.0,194.0 C172.2,198.7 192.5,211.3 208.0,222.0 C223.5,232.7 243.0,246.3 258.0,258.0 C273.0,269.7 291.3,286.3 298.0,292.0" fill="none" stroke="#b43206" stroke-width="16" stroke-linecap="round" stroke-linejoin="round"/>
<path d="M150.0,170.0 C159.7,172.3 188.8,177.7 208.0,184.0 C227.2,190.3 245.2,200.7 265.0,208.0 C284.8,215.3 316.7,224.7 327.0,228.0" fill="none" stroke="#3a3a3a" stroke-width="8" stroke-linecap="round" stroke-linejoin="round"/>
<path d="M255.0,228.0 L270.0,236.0" fill="none" stroke="#888888" stroke-width="7" stroke-linecap="round" stroke-linejoin="round"/>
<path d="M272.0,238.0 C272.7,234.3 281.3,231.7 286.0,232.0 C290.7,232.3 298.0,236.7 300.0,240.0 C302.0,243.3 301.0,249.7 298.0,252.0 C295.0,254.3 286.3,256.3 282.0,254.0 C277.7,251.7 271.3,241.7 272.0,238.0Z" fill="#8a8a8a"/>
<path d="M300.0,262.0 L318.0,262.0" fill="none" stroke="#b0642a" stroke-width="6" stroke-linecap="round" stroke-linejoin="round"/>
<path d="M340.0,245.0 L352.0,268.0" fill="none" stroke="#fa4a0a" stroke-width="8" stroke-linecap="round" stroke-linejoin="round"/>
<path d="M118.0,208.0 C133.0,205.2 153.0,208.8 170.0,215.0 C187.0,221.2 204.7,234.2 220.0,245.0 C235.3,255.8 248.7,268.8 262.0,280.0 C275.3,291.2 292.0,301.7 300.0,312.0 C308.0,322.3 309.7,333.2 310.0,342.0 C310.3,350.8 307.3,360.0 302.0,365.0 C296.7,370.0 288.3,372.8 278.0,372.0 C267.7,371.2 254.7,365.3 240.0,360.0 C225.3,354.7 206.8,347.2 190.0,340.0 C173.2,332.8 156.7,324.8 139.0,317.0 C121.3,309.2 97.2,301.2 84.0,293.0 C70.8,284.8 60.7,278.2 60.0,268.0 C59.3,257.8 70.3,242.0 80.0,232.0 C89.7,222.0 103.0,210.8 118.0,208.0Z" fill="#8a8a8a"/>
<clipPath id="tclip2"><path d="M118.0,208.0 C133.0,205.2 153.0,208.8 170.0,215.0 C187.0,221.2 204.7,234.2 220.0,245.0 C235.3,255.8 248.7,268.8 262.0,280.0 C275.3,291.2 292.0,301.7 300.0,312.0 C308.0,322.3 309.7,333.2 310.0,342.0 C310.3,350.8 307.3,360.0 302.0,365.0 C296.7,370.0 288.3,372.8 278.0,372.0 C267.7,371.2 254.7,365.3 240.0,360.0 C225.3,354.7 206.8,347.2 190.0,340.0 C173.2,332.8 156.7,324.8 139.0,317.0 C121.3,309.2 97.2,301.2 84.0,293.0 C70.8,284.8 60.7,278.2 60.0,268.0 C59.3,257.8 70.3,242.0 80.0,232.0 C89.7,222.0 103.0,210.8 118.0,208.0Z"/></clipPath>
<g clip-path="url(#tclip2)"><rect x="0" y="0" width="620" height="400" fill="#000" filter="url(#texT)"/></g>
<path d="M125.0,212.0 C132.5,213.3 154.2,213.7 170.0,220.0 C185.8,226.3 204.7,239.3 220.0,250.0 C235.3,260.7 249.0,273.3 262.0,284.0 C275.0,294.7 292.0,309.0 298.0,314.0" fill="none" stroke="#8e8e8e" stroke-width="5" stroke-linecap="round" stroke-linejoin="round"/>
<path d="M140.0,215.0 L160.0,235.0" fill="none" stroke="#fa4a0a" stroke-width="6" stroke-linecap="round" stroke-linejoin="round"/>
<path d="M165.0,265.0 L185.0,272.0" fill="none" stroke="#fa4a0a" stroke-width="4" stroke-linecap="round" stroke-linejoin="round"/>
<path d="M250.0,282.0 L285.0,310.0" fill="none" stroke="#cc3606" stroke-width="5" stroke-linecap="round" stroke-linejoin="round"/>
<rect x="0" y="0" width="520" height="404" fill="url(#latshade)"/></g><g filter="url(#blur)" opacity="0.4"><path d="M25.0,228.0 C24.7,221.3 25.5,214.7 28.0,205.0 C30.5,195.3 34.3,181.7 40.0,170.0 C45.7,158.3 52.7,146.7 62.0,135.0 C71.3,123.3 83.7,112.0 96.0,100.0 C108.3,88.0 121.0,74.3 136.0,63.0 C151.0,51.7 169.5,39.0 186.0,32.0 C202.5,25.0 217.7,21.7 235.0,21.0 C252.3,20.3 270.5,23.7 290.0,28.0 C309.5,32.3 332.0,37.2 352.0,47.0 C372.0,56.8 393.7,72.8 410.0,87.0 C426.3,101.2 439.2,117.8 450.0,132.0 C460.8,146.2 469.2,158.2 475.0,172.0 C480.8,185.8 483.8,201.7 485.0,215.0 C486.2,228.3 485.3,240.8 482.0,252.0 C478.7,263.2 473.7,273.2 465.0,282.0 C456.3,290.8 442.3,300.7 430.0,305.0 C417.7,309.3 403.3,308.8 391.0,308.0 C378.7,307.2 367.7,301.8 356.0,300.0 C344.3,298.2 329.3,295.0 321.0,297.0 C312.7,299.0 308.2,304.8 306.0,312.0 C303.8,319.2 309.0,331.7 308.0,340.0 C307.0,348.3 305.0,357.3 300.0,362.0 C295.0,366.7 288.0,368.8 278.0,368.0 C268.0,367.2 254.7,362.3 240.0,357.0 C225.3,351.7 206.8,343.3 190.0,336.0 C173.2,328.7 156.7,320.8 139.0,313.0 C121.3,305.2 99.8,297.3 84.0,289.0 C68.2,280.7 53.0,270.3 44.0,263.0 C35.0,255.7 33.2,250.8 30.0,245.0 C26.8,239.2 25.3,234.7 25.0,228.0Z" fill="none" stroke="#000" stroke-width="26" transform="translate(3 -19)"/></g><path d="M25.0,228.0 C24.7,221.3 25.5,214.7 28.0,205.0 C30.5,195.3 34.3,181.7 40.0,170.0 C45.7,158.3 52.7,146.7 62.0,135.0 C71.3,123.3 83.7,112.0 96.0,100.0 C108.3,88.0 121.0,74.3 136.0,63.0 C151.0,51.7 169.5,39.0 186.0,32.0 C202.5,25.0 217.7,21.7 235.0,21.0 C252.3,20.3 270.5,23.7 290.0,28.0 C309.5,32.3 332.0,37.2 352.0,47.0 C372.0,56.8 393.7,72.8 410.0,87.0 C426.3,101.2 439.2,117.8 450.0,132.0 C460.8,146.2 469.2,158.2 475.0,172.0 C480.8,185.8 483.8,201.7 485.0,215.0 C486.2,228.3 485.3,240.8 482.0,252.0 C478.7,263.2 473.7,273.2 465.0,282.0 C456.3,290.8 442.3,300.7 430.0,305.0 C417.7,309.3 403.3,308.8 391.0,308.0 C378.7,307.2 367.7,301.8 356.0,300.0 C344.3,298.2 329.3,295.0 321.0,297.0 C312.7,299.0 308.2,304.8 306.0,312.0 C303.8,319.2 309.0,331.7 308.0,340.0 C307.0,348.3 305.0,357.3 300.0,362.0 C295.0,366.7 288.0,368.8 278.0,368.0 C268.0,367.2 254.7,362.3 240.0,357.0 C225.3,351.7 206.8,343.3 190.0,336.0 C173.2,328.7 156.7,320.8 139.0,313.0 C121.3,305.2 99.8,297.3 84.0,289.0 C68.2,280.7 53.0,270.3 44.0,263.0 C35.0,255.7 33.2,250.8 30.0,245.0 C26.8,239.2 25.3,234.7 25.0,228.0Z" fill="none" stroke="#000" stroke-opacity="0.25" stroke-width="3"/></g><ellipse cx="196" cy="192" rx="13" ry="8" transform="rotate(35 196 192)" fill="none" stroke="#f6e814" stroke-width="2.8"/><ellipse cx="286" cy="243" rx="17" ry="12" transform="rotate(10 286 243)" fill="none" stroke="#f6e814" stroke-width="2.8"/><ellipse cx="324" cy="283" rx="19" ry="11" transform="rotate(5 324 283)" fill="none" stroke="#f6e814" stroke-width="2.8"/><ellipse cx="276" cy="293" rx="20" ry="8" transform="rotate(50 276 293)" fill="none" stroke="#f6e814" stroke-width="2.8"/></g><g transform="translate(33 243) scale(0.25)"><clipPath id="clip3"><path d="M71.0,244.0 C70.3,235.5 70.5,228.7 74.0,218.0 C77.5,207.3 81.7,194.8 92.0,180.0 C102.3,165.2 120.0,145.3 136.0,129.0 C152.0,112.7 172.3,94.2 188.0,82.0 C203.7,69.8 212.8,62.8 230.0,56.0 C247.2,49.2 271.7,45.0 291.0,41.0 C310.3,37.0 329.8,33.5 346.0,32.0 C362.2,30.5 376.2,31.2 388.0,32.0 C399.8,32.8 404.0,31.5 417.0,37.0 C430.0,42.5 449.5,53.0 466.0,65.0 C482.5,77.0 499.3,91.7 516.0,109.0 C532.7,126.3 554.3,150.5 566.0,169.0 C577.7,187.5 581.5,207.8 586.0,220.0 C590.5,232.2 592.5,234.7 593.0,242.0 C593.5,249.3 593.5,256.8 589.0,264.0 C584.5,271.2 578.2,279.7 566.0,285.0 C553.8,290.3 532.7,292.3 516.0,296.0 C499.3,299.7 482.5,302.3 466.0,307.0 C449.5,311.7 433.5,317.8 417.0,324.0 C400.5,330.2 383.5,337.0 367.0,344.0 C350.5,351.0 332.8,360.0 318.0,366.0 C303.2,372.0 288.0,378.3 278.0,380.0 C268.0,381.7 263.5,379.0 258.0,376.0 C252.5,373.0 247.8,367.3 245.0,362.0 C242.2,356.7 240.5,350.0 241.0,344.0 C241.5,338.0 247.5,330.7 248.0,326.0 C248.5,321.3 252.5,316.7 244.0,316.0 C235.5,315.3 213.2,321.5 197.0,322.0 C180.8,322.5 162.3,322.5 147.0,319.0 C131.7,315.5 116.5,309.3 105.0,301.0 C93.5,292.7 83.7,278.5 78.0,269.0 C72.3,259.5 71.7,252.5 71.0,244.0Z"/></clipPath><g clip-path="url(#clip3)"><path d="M71.0,244.0 C70.3,235.5 70.5,228.7 74.0,218.0 C77.5,207.3 81.7,194.8 92.0,180.0 C102.3,165.2 120.0,145.3 136.0,129.0 C152.0,112.7 172.3,94.2 188.0,82.0 C203.7,69.8 212.8,62.8 230.0,56.0 C247.2,49.2 271.7,45.0 291.0,41.0 C310.3,37.0 329.8,33.5 346.0,32.0 C362.2,30.5 376.2,31.2 388.0,32.0 C399.8,32.8 404.0,31.5 417.0,37.0 C430.0,42.5 449.5,53.0 466.0,65.0 C482.5,77.0 499.3,91.7 516.0,109.0 C532.7,126.3 554.3,150.5 566.0,169.0 C577.7,187.5 581.5,207.8 586.0,220.0 C590.5,232.2 592.5,234.7 593.0,242.0 C593.5,249.3 593.5,256.8 589.0,264.0 C584.5,271.2 578.2,279.7 566.0,285.0 C553.8,290.3 532.7,292.3 516.0,296.0 C499.3,299.7 482.5,302.3 466.0,307.0 C449.5,311.7 433.5,317.8 417.0,324.0 C400.5,330.2 383.5,337.0 367.0,344.0 C350.5,351.0 332.8,360.0 318.0,366.0 C303.2,372.0 288.0,378.3 278.0,380.0 C268.0,381.7 263.5,379.0 258.0,376.0 C252.5,373.0 247.8,367.3 245.0,362.0 C242.2,356.7 240.5,350.0 241.0,344.0 C241.5,338.0 247.5,330.7 248.0,326.0 C248.5,321.3 252.5,316.7 244.0,316.0 C235.5,315.3 213.2,321.5 197.0,322.0 C180.8,322.5 162.3,322.5 147.0,319.0 C131.7,315.5 116.5,309.3 105.0,301.0 C93.5,292.7 83.7,278.5 78.0,269.0 C72.3,259.5 71.7,252.5 71.0,244.0Z" fill="#8c8c8c"/><g filter="url(#rag)"><path d="M250.0,62.0 C251.0,65.8 256.7,78.7 256.0,85.0 C255.3,91.3 247.7,97.5 246.0,100.0" fill="none" stroke="#646464" stroke-width="16" stroke-linecap="round" stroke-linejoin="round"/>
<path d="M256.0,85.0 L232.0,92.0" fill="none" stroke="#646464" stroke-width="12" stroke-linecap="round" stroke-linejoin="round"/>
<path d="M290.0,58.0 C291.7,61.7 295.3,73.3 300.0,80.0 C304.7,86.7 315.0,95.0 318.0,98.0" fill="none" stroke="#646464" stroke-width="14" stroke-linecap="round" stroke-linejoin="round"/>
<path d="M325.0,58.0 C323.8,61.7 319.2,73.3 318.0,80.0 C316.8,86.7 318.0,95.0 318.0,98.0" fill="none" stroke="#646464" stroke-width="12" stroke-linecap="round" stroke-linejoin="round"/>
<path d="M345.0,40.0 C346.2,45.0 349.2,62.0 352.0,70.0 C354.8,78.0 360.3,85.0 362.0,88.0" fill="none" stroke="#646464" stroke-width="13" stroke-linecap="round" stroke-linejoin="round"/>
<path d="M385.0,42.0 C382.8,46.0 375.8,58.3 372.0,66.0 C368.2,73.7 363.7,84.3 362.0,88.0" fill="none" stroke="#646464" stroke-width="13" stroke-linecap="round" stroke-linejoin="round"/>
<path d="M392.0,50.0 C395.0,55.8 404.0,74.7 410.0,85.0 C416.0,95.3 425.0,107.5 428.0,112.0" fill="none" stroke="#646464" stroke-width="20" stroke-linecap="round" stroke-linejoin="round"/>
<path d="M232.0,118.0 C240.0,117.7 263.7,117.3 280.0,116.0 C296.3,114.7 314.7,113.3 330.0,110.0 C345.3,106.7 359.5,101.0 372.0,96.0 C384.5,91.0 399.5,82.7 405.0,80.0" fill="none" stroke="#646464" stroke-width="22" stroke-linecap="round" stroke-linejoin="round"/>
<path d="M436.0,118.0 C438.7,123.3 446.3,138.8 452.0,150.0 C457.7,161.2 463.7,174.2 470.0,185.0 C476.3,195.8 486.7,210.0 490.0,215.0" fill="none" stroke="#646464" stroke-width="30" stroke-linecap="round" stroke-linejoin="round"/>
<path d="M470.0,80.0 L492.0,110.0" fill="none" stroke="#646464" stroke-width="12" stroke-linecap="round" stroke-linejoin="round"/>
<path d="M505.0,112.0 C506.2,116.7 509.5,131.2 512.0,140.0 C514.5,148.8 518.7,160.8 520.0,165.0" fill="none" stroke="#646464" stroke-width="14" stroke-linecap="round" stroke-linejoin="round"/>
<path d="M545.0,170.0 L552.0,200.0" fill="none" stroke="#646464" stroke-width="12" stroke-linecap="round" stroke-linejoin="round"/>
<path d="M440.0,215.0 C445.0,219.2 460.0,232.2 470.0,240.0 C480.0,247.8 495.0,258.3 500.0,262.0" fill="none" stroke="#646464" stroke-width="16" stroke-linecap="round" stroke-linejoin="round"/>
<path d="M215.0,80.0 L232.0,70.0" fill="none" stroke="#646464" stroke-width="10" stroke-linecap="round" stroke-linejoin="round"/>
<path d="M95.0,275.0 C102.5,278.7 124.2,292.3 140.0,297.0 C155.8,301.7 174.7,302.8 190.0,303.0 C205.3,303.2 225.0,298.8 232.0,298.0" fill="none" stroke="#646464" stroke-width="12" stroke-linecap="round" stroke-linejoin="round"/>
<path d="M262.0,330.0 C264.2,333.3 268.7,346.7 275.0,350.0 C281.3,353.3 295.8,350.0 300.0,350.0" fill="none" stroke="#646464" stroke-width="12" stroke-linecap="round" stroke-linejoin="round"/>
<path d="M330.0,330.0 C338.3,326.7 363.3,316.3 380.0,310.0 C396.7,303.7 421.7,295.0 430.0,292.0" fill="none" stroke="#646464" stroke-width="10" stroke-linecap="round" stroke-linejoin="round"/>
<path d="M450.0,285.0 C458.3,283.8 483.3,280.5 500.0,278.0 C516.7,275.5 541.7,271.3 550.0,270.0" fill="none" stroke="#646464" stroke-width="8" stroke-linecap="round" stroke-linejoin="round"/>
<path d="M70.0,240.0 C70.3,229.7 73.0,213.3 78.0,200.0 C83.0,186.7 90.7,171.7 100.0,160.0 C109.3,148.3 124.0,136.7 134.0,130.0 C144.0,123.3 153.2,116.7 160.0,120.0 C166.8,123.3 174.2,136.7 175.0,150.0 C175.8,163.3 167.5,183.3 165.0,200.0 C162.5,216.7 155.8,235.8 160.0,250.0 C164.2,264.2 177.3,276.7 190.0,285.0 C202.7,293.3 228.3,295.5 236.0,300.0 C243.7,304.5 243.8,309.0 236.0,312.0 C228.2,315.0 205.2,317.7 189.0,318.0 C172.8,318.3 153.8,317.8 139.0,314.0 C124.2,310.2 110.5,303.7 100.0,295.0 C89.5,286.3 81.0,271.2 76.0,262.0 C71.0,252.8 69.7,250.3 70.0,240.0Z" fill="#646464"/>
<path d="M110.0,165.0 L140.0,158.0" fill="none" stroke="#8c8c8c" stroke-width="14" stroke-linecap="round" stroke-linejoin="round"/>
<path d="M108.0,190.0 L122.0,200.0" fill="none" stroke="#8c8c8c" stroke-width="12" stroke-linecap="round" stroke-linejoin="round"/>
<path d="M88.0,228.0 C90.0,232.5 93.8,246.3 100.0,255.0 C106.2,263.7 120.8,275.8 125.0,280.0" fill="none" stroke="#8c8c8c" stroke-width="13" stroke-linecap="round" stroke-linejoin="round"/>
<path d="M140.0,205.0 L150.0,215.0" fill="none" stroke="#8c8c8c" stroke-width="10" stroke-linecap="round" stroke-linejoin="round"/>
<path d="M150.0,296.0 C158.3,297.7 186.3,304.7 200.0,306.0 C213.7,307.3 226.7,304.3 232.0,304.0" fill="none" stroke="#8c8c8c" stroke-width="9" stroke-linecap="round" stroke-linejoin="round"/>
<path d="M120.0,300.0 L135.0,306.0" fill="none" stroke="#8c8c8c" stroke-width="7" stroke-linecap="round" stroke-linejoin="round"/>
<path d="M224.0,46.0 C236.3,40.0 264.0,34.3 283.0,30.0 C302.0,25.7 318.5,21.3 338.0,20.0 C357.5,18.7 384.3,19.8 400.0,22.0 C415.7,24.2 422.8,28.0 432.0,33.0 C441.2,38.0 451.7,45.2 455.0,52.0 C458.3,58.8 455.5,67.7 452.0,74.0 C448.5,80.3 441.2,89.3 434.0,90.0 C426.8,90.7 417.3,78.0 409.0,78.0 C400.7,78.0 392.3,83.8 384.0,90.0 C375.7,96.2 371.3,108.3 359.0,115.0 C346.7,121.7 326.5,125.0 310.0,130.0 C293.5,135.0 271.8,140.0 260.0,145.0 C248.2,150.0 248.3,154.2 239.0,160.0 C229.7,165.8 212.8,173.3 204.0,180.0 C195.2,186.7 191.7,196.7 186.0,200.0 C180.3,203.3 173.3,203.3 170.0,200.0 C166.7,196.7 164.5,186.7 166.0,180.0 C167.5,173.3 178.5,165.8 179.0,160.0 C179.5,154.2 174.8,148.3 169.0,145.0 C163.2,141.7 149.0,144.2 144.0,140.0 C139.0,135.8 136.5,126.7 139.0,120.0 C141.5,113.3 151.5,105.0 159.0,100.0 C166.5,95.0 175.7,95.7 184.0,90.0 C192.3,84.3 202.3,73.3 209.0,66.0 C215.7,58.7 211.7,52.0 224.0,46.0Z" fill="#fa4a0a"/>
<path d="M184.0,150.0 C183.3,154.2 182.3,165.8 180.0,175.0 C177.7,184.2 172.8,194.5 170.0,205.0 C167.2,215.5 166.0,227.2 163.0,238.0 C160.0,248.8 153.8,264.7 152.0,270.0" fill="none" stroke="#fa4a0a" stroke-width="22" stroke-linecap="round" stroke-linejoin="round"/>
<path d="M150.0,262.0 L165.0,285.0" fill="none" stroke="#fa4a0a" stroke-width="14" stroke-linecap="round" stroke-linejoin="round"/>
<path d="M395.0,100.0 C400.8,104.2 417.5,125.0 430.0,125.0 C442.5,125.0 463.3,104.2 470.0,100.0" fill="none" stroke="#646464" stroke-width="14" stroke-linecap="round" stroke-linejoin="round"/>
<path d="M360.0,135.0 C366.7,133.8 388.3,129.7 400.0,128.0 C411.7,126.3 423.3,118.0 430.0,125.0 C436.7,132.0 438.3,162.5 440.0,170.0" fill="none" stroke="#646464" stroke-width="14" stroke-linecap="round" stroke-linejoin="round"/>
<path d="M455.0,120.0 L480.0,175.0" fill="none" stroke="#646464" stroke-width="12" stroke-linecap="round" stroke-linejoin="round"/>
<path d="M520.0,110.0 C525.3,109.3 531.7,122.8 538.0,132.0 C544.3,141.2 551.3,151.0 558.0,165.0 C564.7,179.0 572.3,203.8 578.0,216.0 C583.7,228.2 590.3,229.8 592.0,238.0 C593.7,246.2 593.3,256.3 588.0,265.0 C582.7,273.7 573.3,284.2 560.0,290.0 C546.7,295.8 525.0,296.3 508.0,300.0 C491.0,303.7 474.5,307.0 458.0,312.0 C441.5,317.0 425.5,323.7 409.0,330.0 C392.5,336.3 375.5,343.0 359.0,350.0 C342.5,357.0 319.8,372.8 310.0,372.0 C300.2,371.2 296.0,351.2 300.0,345.0 C304.0,338.8 320.0,340.8 334.0,335.0 C348.0,329.2 369.8,317.5 384.0,310.0 C398.2,302.5 414.8,296.7 419.0,290.0 C423.2,283.3 414.0,275.7 409.0,270.0 C404.0,264.3 392.3,263.3 389.0,256.0 C385.7,248.7 386.5,236.0 389.0,226.0 C391.5,216.0 398.2,200.3 404.0,196.0 C409.8,191.7 418.0,196.7 424.0,200.0 C430.0,203.3 434.3,213.3 440.0,216.0 C445.7,218.7 452.5,220.3 458.0,216.0 C463.5,211.7 467.2,199.3 473.0,190.0 C478.8,180.7 487.5,169.0 493.0,160.0 C498.5,151.0 501.5,144.3 506.0,136.0 C510.5,127.7 514.7,110.7 520.0,110.0Z" fill="#fa4a0a"/>
<path d="M512.0,226.0 C515.8,219.0 534.5,214.0 545.0,214.0 C555.5,214.0 566.2,220.0 575.0,226.0 C583.8,232.0 595.2,241.3 598.0,250.0 C600.8,258.7 600.0,274.3 592.0,278.0 C584.0,281.7 561.7,275.7 550.0,272.0 C538.3,268.3 528.3,263.7 522.0,256.0 C515.7,248.3 508.2,233.0 512.0,226.0Z" fill="#8c8c8c"/>
<path d="M425.0,220.0 L452.0,230.0" fill="none" stroke="#646464" stroke-width="20" stroke-linecap="round" stroke-linejoin="round"/>
<path d="M530.0,262.0 L570.0,272.0" fill="none" stroke="#646464" stroke-width="6" stroke-linecap="round" stroke-linejoin="round"/>
<path d="M150.0,258.0 C147.5,254.3 156.7,240.8 165.0,232.0 C173.3,223.2 184.2,213.3 200.0,205.0 C215.8,196.7 238.3,187.8 260.0,182.0 C281.7,176.2 309.2,171.3 330.0,170.0 C350.8,168.7 373.0,168.2 385.0,174.0 C397.0,179.8 400.2,193.2 402.0,205.0 C403.8,216.8 401.0,233.3 396.0,245.0 C391.0,256.7 381.3,267.2 372.0,275.0 C362.7,282.8 353.7,287.5 340.0,292.0 C326.3,296.5 305.0,301.3 290.0,302.0 C275.0,302.7 259.0,301.0 250.0,296.0 C241.0,291.0 241.3,278.7 236.0,272.0 C230.7,265.3 227.3,259.0 218.0,256.0 C208.7,253.0 191.3,253.7 180.0,254.0 C168.7,254.3 152.5,261.7 150.0,258.0Z" fill="url(#mwall)"/>
<path d="M172.0,222.0 C176.7,217.7 185.3,204.3 200.0,196.0 C214.7,187.7 239.7,178.0 260.0,172.0 C280.3,166.0 311.7,162.0 322.0,160.0" fill="none" stroke="#fa4a0a" stroke-width="7" stroke-linecap="round" stroke-linejoin="round"/>
<path d="M335.0,160.0 L352.0,158.0" fill="none" stroke="#fa4a0a" stroke-width="5" stroke-linecap="round" stroke-linejoin="round"/>
<path d="M404.0,195.0 C409.7,190.0 419.0,197.5 420.0,205.0 C421.0,212.5 414.7,230.5 410.0,240.0 C405.3,249.5 396.0,262.8 392.0,262.0 C388.0,261.2 384.0,246.2 386.0,235.0 C388.0,223.8 398.3,200.0 404.0,195.0Z" fill="#fa4a0a"/>
<path d="M256.0,318.0 C261.2,316.7 270.7,318.3 275.0,322.0 C279.3,325.7 277.8,336.2 282.0,340.0 C286.2,343.8 293.7,343.3 300.0,345.0 C306.3,346.7 320.0,345.5 320.0,350.0 C320.0,354.5 308.7,367.0 300.0,372.0 C291.3,377.0 277.0,380.3 268.0,380.0 C259.0,379.7 251.3,375.0 246.0,370.0 C240.7,365.0 236.3,356.7 236.0,350.0 C235.7,343.3 240.7,335.3 244.0,330.0 C247.3,324.7 250.8,319.3 256.0,318.0Z" fill="#fa4a0a"/>
<path d="M262.0,345.0 L280.0,358.0" fill="none" stroke="#646464" stroke-width="7" stroke-linecap="round" stroke-linejoin="round"/>
<path d="M108.0,232.0 L118.0,246.0" fill="none" stroke="#fa4a0a" stroke-width="8" stroke-linecap="round" stroke-linejoin="round"/>
<path d="M142.0,262.0 L160.0,278.0" fill="none" stroke="#fa4a0a" stroke-width="10" stroke-linecap="round" stroke-linejoin="round"/>
<path d="M170.0,248.0 L188.0,258.0" fill="none" stroke="#fa4a0a" stroke-width="7" stroke-linecap="round" stroke-linejoin="round"/>
<path d="M200.0,262.0 L230.0,268.0" fill="none" stroke="#fa4a0a" stroke-width="6" stroke-linecap="round" stroke-linejoin="round"/>
<path d="M250.0,262.0 L268.0,268.0" fill="none" stroke="#fa4a0a" stroke-width="6" stroke-linecap="round" stroke-linejoin="round"/></g><g filter="url(#blur)" opacity="0.55"><path d="M71.0,244.0 C70.3,235.5 70.5,228.7 74.0,218.0 C77.5,207.3 81.7,194.8 92.0,180.0 C102.3,165.2 120.0,145.3 136.0,129.0 C152.0,112.7 172.3,94.2 188.0,82.0 C203.7,69.8 212.8,62.8 230.0,56.0 C247.2,49.2 271.7,45.0 291.0,41.0 C310.3,37.0 329.8,33.5 346.0,32.0 C362.2,30.5 376.2,31.2 388.0,32.0 C399.8,32.8 404.0,31.5 417.0,37.0 C430.0,42.5 449.5,53.0 466.0,65.0 C482.5,77.0 499.3,91.7 516.0,109.0 C532.7,126.3 554.3,150.5 566.0,169.0 C577.7,187.5 581.5,207.8 586.0,220.0 C590.5,232.2 592.5,234.7 593.0,242.0 C593.5,249.3 593.5,256.8 589.0,264.0 C584.5,271.2 578.2,279.7 566.0,285.0 C553.8,290.3 532.7,292.3 516.0,296.0 C499.3,299.7 482.5,302.3 466.0,307.0 C449.5,311.7 433.5,317.8 417.0,324.0 C400.5,330.2 383.5,337.0 367.0,344.0 C350.5,351.0 332.8,360.0 318.0,366.0 C303.2,372.0 288.0,378.3 278.0,380.0 C268.0,381.7 263.5,379.0 258.0,376.0 C252.5,373.0 247.8,367.3 245.0,362.0 C242.2,356.7 240.5,350.0 241.0,344.0 C241.5,338.0 247.5,330.7 248.0,326.0 C248.5,321.3 252.5,316.7 244.0,316.0 C235.5,315.3 213.2,321.5 197.0,322.0 C180.8,322.5 162.3,322.5 147.0,319.0 C131.7,315.5 116.5,309.3 105.0,301.0 C93.5,292.7 83.7,278.5 78.0,269.0 C72.3,259.5 71.7,252.5 71.0,244.0Z" fill="none" stroke="#000" stroke-width="34" transform="translate(3 -19)"/></g><path d="M71.0,244.0 C70.3,235.5 70.5,228.7 74.0,218.0 C77.5,207.3 81.7,194.8 92.0,180.0 C102.3,165.2 120.0,145.3 136.0,129.0 C152.0,112.7 172.3,94.2 188.0,82.0 C203.7,69.8 212.8,62.8 230.0,56.0 C247.2,49.2 271.7,45.0 291.0,41.0 C310.3,37.0 329.8,33.5 346.0,32.0 C362.2,30.5 376.2,31.2 388.0,32.0 C399.8,32.8 404.0,31.5 417.0,37.0 C430.0,42.5 449.5,53.0 466.0,65.0 C482.5,77.0 499.3,91.7 516.0,109.0 C532.7,126.3 554.3,150.5 566.0,169.0 C577.7,187.5 581.5,207.8 586.0,220.0 C590.5,232.2 592.5,234.7 593.0,242.0 C593.5,249.3 593.5,256.8 589.0,264.0 C584.5,271.2 578.2,279.7 566.0,285.0 C553.8,290.3 532.7,292.3 516.0,296.0 C499.3,299.7 482.5,302.3 466.0,307.0 C449.5,311.7 433.5,317.8 417.0,324.0 C400.5,330.2 383.5,337.0 367.0,344.0 C350.5,351.0 332.8,360.0 318.0,366.0 C303.2,372.0 288.0,378.3 278.0,380.0 C268.0,381.7 263.5,379.0 258.0,376.0 C252.5,373.0 247.8,367.3 245.0,362.0 C242.2,356.7 240.5,350.0 241.0,344.0 C241.5,338.0 247.5,330.7 248.0,326.0 C248.5,321.3 252.5,316.7 244.0,316.0 C235.5,315.3 213.2,321.5 197.0,322.0 C180.8,322.5 162.3,322.5 147.0,319.0 C131.7,315.5 116.5,309.3 105.0,301.0 C93.5,292.7 83.7,278.5 78.0,269.0 C72.3,259.5 71.7,252.5 71.0,244.0Z" fill="none" stroke="#000" stroke-opacity="0.25" stroke-width="3"/></g><ellipse cx="195" cy="133" rx="24" ry="18" transform="rotate(-12 195 133)" fill="none" stroke="#f6e814" stroke-width="4.2"/><ellipse cx="133" cy="239" rx="18" ry="22" transform="rotate(-10 133 239)" fill="none" stroke="#f6e814" stroke-width="4.2"/><ellipse cx="216" cy="268" rx="28" ry="19" transform="rotate(0 216 268)" fill="none" stroke="#f6e814" stroke-width="4.2"/></g><g transform="translate(188 243) scale(0.25)"><clipPath id="clip4"><path d="M33.0,230.4 C32.7,223.7 33.5,217.1 36.0,207.4 C38.5,197.7 42.3,184.1 48.0,172.4 C53.7,160.7 60.7,149.1 70.0,137.4 C79.3,125.7 91.7,114.4 104.0,102.4 C116.3,90.4 129.0,76.7 144.0,65.4 C159.0,54.1 177.5,41.4 194.0,34.4 C210.5,27.4 225.7,24.1 243.0,23.4 C260.3,22.7 278.5,26.1 298.0,30.4 C317.5,34.7 340.0,39.6 360.0,49.4 C380.0,59.2 401.7,75.2 418.0,89.4 C434.3,103.6 447.2,120.2 458.0,134.4 C468.8,148.6 477.2,160.6 483.0,174.4 C488.8,188.2 491.8,204.1 493.0,217.4 C494.2,230.7 493.3,243.2 490.0,254.4 C486.7,265.6 481.7,275.6 473.0,284.4 C464.3,293.2 450.3,303.1 438.0,307.4 C425.7,311.7 411.3,311.2 399.0,310.4 C386.7,309.6 375.7,304.2 364.0,302.4 C352.3,300.6 337.3,297.4 329.0,299.4 C320.7,301.4 316.2,307.2 314.0,314.4 C311.8,321.6 317.0,334.1 316.0,342.4 C315.0,350.7 313.0,359.7 308.0,364.4 C303.0,369.1 296.0,371.2 286.0,370.4 C276.0,369.6 262.7,364.7 248.0,359.4 C233.3,354.1 214.8,345.7 198.0,338.4 C181.2,331.1 164.7,323.2 147.0,315.4 C129.3,307.6 107.8,299.7 92.0,291.4 C76.2,283.1 61.0,272.7 52.0,265.4 C43.0,258.1 41.2,253.2 38.0,247.4 C34.8,241.6 33.3,237.1 33.0,230.4Z"/></clipPath><g clip-path="url(#clip4)"><path d="M33.0,230.4 C32.7,223.7 33.5,217.1 36.0,207.4 C38.5,197.7 42.3,184.1 48.0,172.4 C53.7,160.7 60.7,149.1 70.0,137.4 C79.3,125.7 91.7,114.4 104.0,102.4 C116.3,90.4 129.0,76.7 144.0,65.4 C159.0,54.1 177.5,41.4 194.0,34.4 C210.5,27.4 225.7,24.1 243.0,23.4 C260.3,22.7 278.5,26.1 298.0,30.4 C317.5,34.7 340.0,39.6 360.0,49.4 C380.0,59.2 401.7,75.2 418.0,89.4 C434.3,103.6 447.2,120.2 458.0,134.4 C468.8,148.6 477.2,160.6 483.0,174.4 C488.8,188.2 491.8,204.1 493.0,217.4 C494.2,230.7 493.3,243.2 490.0,254.4 C486.7,265.6 481.7,275.6 473.0,284.4 C464.3,293.2 450.3,303.1 438.0,307.4 C425.7,311.7 411.3,311.2 399.0,310.4 C386.7,309.6 375.7,304.2 364.0,302.4 C352.3,300.6 337.3,297.4 329.0,299.4 C320.7,301.4 316.2,307.2 314.0,314.4 C311.8,321.6 317.0,334.1 316.0,342.4 C315.0,350.7 313.0,359.7 308.0,364.4 C303.0,369.1 296.0,371.2 286.0,370.4 C276.0,369.6 262.7,364.7 248.0,359.4 C233.3,354.1 214.8,345.7 198.0,338.4 C181.2,331.1 164.7,323.2 147.0,315.4 C129.3,307.6 107.8,299.7 92.0,291.4 C76.2,283.1 61.0,272.7 52.0,265.4 C43.0,258.1 41.2,253.2 38.0,247.4 C34.8,241.6 33.3,237.1 33.0,230.4Z" fill="#888888"/><g filter="url(#rag)"><g><rect x="0" y="0" width="620" height="400" fill="#000" filter="url(#texL)"/></g>
<path d="M51.8,204.7 C48.3,203.4 36.4,197.9 30.9,196.9 C25.4,195.9 20.7,198.5 18.7,198.8" fill="none" stroke="#5c5c5c" stroke-width="12.6235" stroke-linecap="round" stroke-linejoin="round"/>
<path d="M226.4,135.7 C227.1,133.1 230.5,125.4 230.9,120.4 C231.3,115.4 229.1,108.1 228.8,105.7" fill="none" stroke="#5c5c5c" stroke-width="14.9739" stroke-linecap="round" stroke-linejoin="round"/>
<path d="M178.8,160.6 C177.8,157.8 175.8,149.9 173.2,143.7 C170.5,137.5 164.5,126.8 162.7,123.4" fill="none" stroke="#5c5c5c" stroke-width="14.2083" stroke-linecap="round" stroke-linejoin="round"/>
<path d="M24.6,260.0 C22.6,261.9 17.7,267.5 12.4,271.4 C7.2,275.3 -3.8,281.4 -7.0,283.4" fill="none" stroke="#5c5c5c" stroke-width="10.8076" stroke-linecap="round" stroke-linejoin="round"/>
<path d="M169.7,60.5 C169.2,57.0 168.9,46.3 166.9,39.5 C165.0,32.6 159.6,22.8 158.1,19.5" fill="none" stroke="#5c5c5c" stroke-width="14.5266" stroke-linecap="round" stroke-linejoin="round"/>
<path d="M296.7,60.2 C297.9,57.9 303.0,50.8 303.8,46.5 C304.7,42.1 302.0,36.2 301.6,34.1" fill="none" stroke="#5c5c5c" stroke-width="9.81581" stroke-linecap="round" stroke-linejoin="round"/>
<path d="M165.0,140.6 C163.6,138.1 159.5,130.9 156.3,125.6 C153.1,120.3 147.6,111.6 145.8,108.8" fill="none" stroke="#5c5c5c" stroke-width="11.3152" stroke-linecap="round" stroke-linejoin="round"/>
<path d="M257.6,88.7 C260.0,84.7 267.9,71.8 272.2,65.0 C276.5,58.2 281.6,50.9 283.4,48.1" fill="none" stroke="#5c5c5c" stroke-width="14.1384" stroke-linecap="round" stroke-linejoin="round"/>
<path d="M249.1,49.5 C249.7,46.3 250.7,37.6 252.9,30.0 C255.1,22.4 260.9,8.3 262.5,3.9" fill="none" stroke="#5c5c5c" stroke-width="12.4146" stroke-linecap="round" stroke-linejoin="round"/>
<path d="M144.5,145.8 C143.2,144.2 137.9,140.6 136.6,136.5 C135.3,132.4 136.9,123.8 136.9,121.3" fill="none" stroke="#5c5c5c" stroke-width="14.1237" stroke-linecap="round" stroke-linejoin="round"/>
<path d="M134.1,184.2 C131.4,182.5 122.0,177.9 118.2,174.3 C114.5,170.6 112.6,164.1 111.5,162.0" fill="none" stroke="#5c5c5c" stroke-width="13.6128" stroke-linecap="round" stroke-linejoin="round"/>
<path d="M35.8,275.2 C33.1,276.3 25.0,281.4 19.6,282.1 C14.3,282.7 6.1,279.5 3.4,279.0" fill="none" stroke="#5c5c5c" stroke-width="14.2854" stroke-linecap="round" stroke-linejoin="round"/>
<path d="M143.9,197.3 C140.5,197.1 129.9,197.0 123.3,196.3 C116.7,195.6 107.7,193.6 104.5,193.1" fill="none" stroke="#5c5c5c" stroke-width="9.18827" stroke-linecap="round" stroke-linejoin="round"/>
<path d="M150.3,226.2 C147.1,225.4 138.9,222.5 131.2,221.2 C123.6,220.0 108.8,219.2 104.3,218.7" fill="none" stroke="#5c5c5c" stroke-width="10.883" stroke-linecap="round" stroke-linejoin="round"/>
<path d="M93.5,146.3 C91.2,144.8 84.5,141.8 79.4,137.3 C74.3,132.9 65.6,122.5 62.8,119.5" fill="none" stroke="#5c5c5c" stroke-width="12.5739" stroke-linecap="round" stroke-linejoin="round"/>
<path d="M120.6,143.4 C118.7,141.2 114.4,134.7 108.9,130.1 C103.3,125.6 91.1,118.7 87.5,116.4" fill="none" stroke="#5c5c5c" stroke-width="10.4258" stroke-linecap="round" stroke-linejoin="round"/>
<path d="M178.6,176.9 C176.4,175.4 170.3,171.4 165.6,168.0 C160.9,164.6 152.9,158.5 150.3,156.5" fill="none" stroke="#5c5c5c" stroke-width="12.4798" stroke-linecap="round" stroke-linejoin="round"/>
<path d="M48.3,258.9 C45.9,260.7 39.5,266.6 34.1,269.3 C28.7,271.9 18.9,273.9 15.8,274.8" fill="none" stroke="#5c5c5c" stroke-width="13.0757" stroke-linecap="round" stroke-linejoin="round"/>
<path d="M150.1,233.4 C147.2,235.6 138.3,242.3 132.7,246.3 C127.0,250.3 118.9,255.6 116.1,257.4" fill="none" stroke="#5c5c5c" stroke-width="14.7798" stroke-linecap="round" stroke-linejoin="round"/>
<path d="M89.7,187.1 C86.9,186.0 77.7,182.0 72.8,180.1 C67.8,178.1 61.9,176.2 59.8,175.5" fill="none" stroke="#5c5c5c" stroke-width="11.2149" stroke-linecap="round" stroke-linejoin="round"/>
<path d="M212.4,171.1 C211.3,168.4 207.2,161.4 206.0,155.0 C204.8,148.7 205.3,136.6 205.2,132.9" fill="none" stroke="#5c5c5c" stroke-width="13.411" stroke-linecap="round" stroke-linejoin="round"/>
<path d="M118.1,204.0 C114.9,204.1 104.7,203.9 98.8,204.7 C93.0,205.6 85.7,208.1 83.1,208.8" fill="none" stroke="#5c5c5c" stroke-width="13.1884" stroke-linecap="round" stroke-linejoin="round"/>
<path d="M136.0,63.0 C151.0,51.0 169.5,35.8 186.0,28.0 C202.5,20.2 217.7,16.7 235.0,16.0 C252.3,15.3 275.7,20.0 290.0,24.0 C304.3,28.0 318.3,33.5 321.0,40.0 C323.7,46.5 302.7,57.7 306.0,63.0 C309.3,68.3 342.7,68.8 341.0,72.0 C339.3,75.2 304.3,76.2 296.0,82.0 C287.7,87.8 294.3,97.8 291.0,107.0 C287.7,116.2 276.8,128.7 276.0,137.0 C275.2,145.3 280.2,152.8 286.0,157.0 C291.8,161.2 301.8,159.5 311.0,162.0 C320.2,164.5 333.5,166.5 341.0,172.0 C348.5,177.5 352.7,190.3 356.0,195.0 C359.3,199.7 356.8,194.5 361.0,200.0 C365.2,205.5 376.0,219.3 381.0,228.0 C386.0,236.7 392.7,244.7 391.0,252.0 C389.3,259.3 373.5,264.3 371.0,272.0 C368.5,279.7 379.3,292.7 376.0,298.0 C372.7,303.3 360.2,303.7 351.0,304.0 C341.8,304.3 328.5,298.7 321.0,300.0 C313.5,301.3 312.0,309.2 306.0,312.0 C300.0,314.8 295.2,320.3 285.0,317.0 C274.8,313.7 257.5,299.5 245.0,292.0 C232.5,284.5 221.5,278.7 210.0,272.0 C198.5,265.3 185.8,257.7 176.0,252.0 C166.2,246.3 161.0,239.5 151.0,238.0 C141.0,236.5 122.7,238.2 116.0,243.0 C109.3,247.8 110.2,258.8 111.0,267.0 C111.8,275.2 125.2,286.5 121.0,292.0 C116.8,297.5 99.2,302.7 86.0,300.0 C72.8,297.3 52.3,284.3 42.0,276.0 C31.7,267.7 27.7,256.0 24.0,250.0 C20.3,244.0 19.5,247.0 20.0,240.0 C20.5,233.0 23.7,219.7 27.0,208.0 C30.3,196.3 34.2,182.2 40.0,170.0 C45.8,157.8 52.7,146.7 62.0,135.0 C71.3,123.3 83.7,112.0 96.0,100.0 C108.3,88.0 121.0,75.0 136.0,63.0Z" fill="#fa4a0a"/>
<path d="M128.0,66.0 C136.3,62.7 144.5,75.7 150.0,80.0 C155.5,84.3 162.5,85.0 161.0,92.0 C159.5,99.0 146.8,111.2 141.0,122.0 C135.2,132.8 131.0,144.5 126.0,157.0 C121.0,169.5 119.2,190.3 111.0,197.0 C102.8,203.7 84.3,201.2 77.0,197.0 C69.7,192.8 66.5,182.3 67.0,172.0 C67.5,161.7 74.5,147.0 80.0,135.0 C85.5,123.0 92.0,111.5 100.0,100.0 C108.0,88.5 119.7,69.3 128.0,66.0Z" fill="#888888"/>
<path d="M125.0,85.0 C122.5,90.8 115.0,107.5 110.0,120.0 C105.0,132.5 98.3,148.3 95.0,160.0 C91.7,171.7 90.8,185.0 90.0,190.0" fill="none" stroke="#5c5c5c" stroke-width="14" stroke-linecap="round" stroke-linejoin="round"/>
<path d="M140.0,95.0 L128.0,130.0" fill="none" stroke="#5c5c5c" stroke-width="9" stroke-linecap="round" stroke-linejoin="round"/>
<path d="M22.0,215.0 C24.7,208.7 35.0,208.7 40.0,212.0 C45.0,215.3 49.5,225.7 52.0,235.0 C54.5,244.3 57.0,262.2 55.0,268.0 C53.0,273.8 45.2,273.0 40.0,270.0 C34.8,267.0 27.0,259.2 24.0,250.0 C21.0,240.8 19.3,221.3 22.0,215.0Z" fill="#888888"/>
<path d="M36.0,225.0 L44.0,255.0" fill="none" stroke="#5c5c5c" stroke-width="8" stroke-linecap="round" stroke-linejoin="round"/>
<path d="M75.0,215.0 L85.0,235.0" fill="none" stroke="#888888" stroke-width="10" stroke-linecap="round" stroke-linejoin="round"/>
<path d="M70.0,150.0 L60.0,175.0" fill="none" stroke="#5c5c5c" stroke-width="7" stroke-linecap="round" stroke-linejoin="round"/>
<path d="M245.0,40.0 L250.0,62.0" fill="none" stroke="#888888" stroke-width="6" stroke-linecap="round" stroke-linejoin="round"/>
<path d="M180.0,105.0 L195.0,125.0" fill="none" stroke="#5c5c5c" stroke-width="5" stroke-linecap="round" stroke-linejoin="round"/>
<path d="M215.0,70.0 L222.0,80.0" fill="none" stroke="#5c5c5c" stroke-width="5" stroke-linecap="round" stroke-linejoin="round"/>
<path d="M116.0,243.0 C122.7,238.2 141.0,236.5 151.0,238.0 C161.0,239.5 166.2,246.3 176.0,252.0 C185.8,257.7 198.5,265.3 210.0,272.0 C221.5,278.7 232.5,284.5 245.0,292.0 C257.5,299.5 274.2,309.5 285.0,317.0 C295.8,324.5 305.8,329.5 310.0,337.0 C314.2,344.5 313.3,355.8 310.0,362.0 C306.7,368.2 300.0,374.0 290.0,374.0 C280.0,374.0 265.0,367.7 250.0,362.0 C235.0,356.3 216.5,347.8 200.0,340.0 C183.5,332.2 164.2,322.5 151.0,315.0 C137.8,307.5 127.7,303.0 121.0,295.0 C114.3,287.0 111.8,275.7 111.0,267.0 C110.2,258.3 109.3,247.8 116.0,243.0Z" fill="#8a8a8a"/>
<clipPath id="tclip4"><path d="M116.0,243.0 C122.7,238.2 141.0,236.5 151.0,238.0 C161.0,239.5 166.2,246.3 176.0,252.0 C185.8,257.7 198.5,265.3 210.0,272.0 C221.5,278.7 232.5,284.5 245.0,292.0 C257.5,299.5 274.2,309.5 285.0,317.0 C295.8,324.5 305.8,329.5 310.0,337.0 C314.2,344.5 313.3,355.8 310.0,362.0 C306.7,368.2 300.0,374.0 290.0,374.0 C280.0,374.0 265.0,367.7 250.0,362.0 C235.0,356.3 216.5,347.8 200.0,340.0 C183.5,332.2 164.2,322.5 151.0,315.0 C137.8,307.5 127.7,303.0 121.0,295.0 C114.3,287.0 111.8,275.7 111.0,267.0 C110.2,258.3 109.3,247.8 116.0,243.0Z"/></clipPath>
<g clip-path="url(#tclip4)"><rect x="0" y="0" width="620" height="400" fill="#000" filter="url(#texT)"/></g>
<path d="M150.0,170.0 C155.8,175.0 171.7,189.2 185.0,200.0 C198.3,210.8 215.0,223.3 230.0,235.0 C245.0,246.7 263.3,259.2 275.0,270.0 C286.7,280.8 295.8,295.0 300.0,300.0" fill="none" stroke="#c83404" stroke-width="12" stroke-linecap="round" stroke-linejoin="round"/>
<path d="M386.0,132.0 C388.3,127.5 399.3,120.8 405.0,120.0 C410.7,119.2 415.8,121.7 420.0,127.0 C424.2,132.3 431.7,146.2 430.0,152.0 C428.3,157.8 416.5,162.8 410.0,162.0 C403.5,161.2 395.0,152.0 391.0,147.0 C387.0,142.0 383.7,136.5 386.0,132.0Z" fill="#fa4a0a"/>
<path d="M420.0,178.0 L426.0,182.0" fill="none" stroke="#fa4a0a" stroke-width="9" stroke-linecap="round" stroke-linejoin="round"/>
<path d="M445.0,196.0 L450.0,200.0" fill="none" stroke="#fa4a0a" stroke-width="8" stroke-linecap="round" stroke-linejoin="round"/>
<path d="M300.0,175.0 L320.0,195.0" fill="none" stroke="#fa4a0a" stroke-width="12" stroke-linecap="round" stroke-linejoin="round"/>
<path d="M330.0,215.0 L350.0,235.0" fill="none" stroke="#fa4a0a" stroke-width="14" stroke-linecap="round" stroke-linejoin="round"/>
<path d="M296.0,147.0 L304.0,153.0" fill="none" stroke="#fa4a0a" stroke-width="8" stroke-linecap="round" stroke-linejoin="round"/>
<path d="M314.0,137.0 L322.0,143.0" fill="none" stroke="#fa4a0a" stroke-width="6" stroke-linecap="round" stroke-linejoin="round"/>
<path d="M328.0,155.0 L336.0,161.0" fill="none" stroke="#fa4a0a" stroke-width="7" stroke-linecap="round" stroke-linejoin="round"/>
<path d="M341.0,182.0 L349.0,188.0" fill="none" stroke="#fa4a0a" stroke-width="8" stroke-linecap="round" stroke-linejoin="round"/>
<path d="M358.0,207.0 L366.0,213.0" fill="none" stroke="#fa4a0a" stroke-width="7" stroke-linecap="round" stroke-linejoin="round"/>
<path d="M368.0,177.0 L376.0,183.0" fill="none" stroke="#fa4a0a" stroke-width="5" stroke-linecap="round" stroke-linejoin="round"/>
<path d="M348.0,147.0 L356.0,153.0" fill="none" stroke="#fa4a0a" stroke-width="5" stroke-linecap="round" stroke-linejoin="round"/>
<path d="M391.0,232.0 L399.0,238.0" fill="none" stroke="#fa4a0a" stroke-width="7" stroke-linecap="round" stroke-linejoin="round"/>
<path d="M401.0,259.0 L409.0,265.0" fill="none" stroke="#fa4a0a" stroke-width="6" stroke-linecap="round" stroke-linejoin="round"/>
<path d="M381.0,282.0 L389.0,288.0" fill="none" stroke="#fa4a0a" stroke-width="6" stroke-linecap="round" stroke-linejoin="round"/>
<path d="M466.0,147.0 L474.0,153.0" fill="none" stroke="#fa4a0a" stroke-width="5" stroke-linecap="round" stroke-linejoin="round"/>
<path d="M451.0,117.0 L459.0,123.0" fill="none" stroke="#fa4a0a" stroke-width="5" stroke-linecap="round" stroke-linejoin="round"/>
<path d="M276.0,123.0 L284.0,117.0" fill="none" stroke="#888888" stroke-width="7" stroke-linecap="round" stroke-linejoin="round"/>
<path d="M264.0,153.0 L272.0,147.0" fill="none" stroke="#888888" stroke-width="6" stroke-linecap="round" stroke-linejoin="round"/>
<path d="M296.0,193.0 L304.0,187.0" fill="none" stroke="#888888" stroke-width="7" stroke-linecap="round" stroke-linejoin="round"/>
<path d="M321.0,228.0 L329.0,222.0" fill="none" stroke="#888888" stroke-width="7" stroke-linecap="round" stroke-linejoin="round"/>
<path d="M346.0,265.0 L354.0,259.0" fill="none" stroke="#888888" stroke-width="8" stroke-linecap="round" stroke-linejoin="round"/>
<path d="M258.0,83.0 L266.0,77.0" fill="none" stroke="#888888" stroke-width="6" stroke-linecap="round" stroke-linejoin="round"/>
<path d="M278.0,63.0 L286.0,57.0" fill="none" stroke="#888888" stroke-width="6" stroke-linecap="round" stroke-linejoin="round"/></g><g filter="url(#blur)" opacity="0.4"><path d="M33.0,230.4 C32.7,223.7 33.5,217.1 36.0,207.4 C38.5,197.7 42.3,184.1 48.0,172.4 C53.7,160.7 60.7,149.1 70.0,137.4 C79.3,125.7 91.7,114.4 104.0,102.4 C116.3,90.4 129.0,76.7 144.0,65.4 C159.0,54.1 177.5,41.4 194.0,34.4 C210.5,27.4 225.7,24.1 243.0,23.4 C260.3,22.7 278.5,26.1 298.0,30.4 C317.5,34.7 340.0,39.6 360.0,49.4 C380.0,59.2 401.7,75.2 418.0,89.4 C434.3,103.6 447.2,120.2 458.0,134.4 C468.8,148.6 477.2,160.6 483.0,174.4 C488.8,188.2 491.8,204.1 493.0,217.4 C494.2,230.7 493.3,243.2 490.0,254.4 C486.7,265.6 481.7,275.6 473.0,284.4 C464.3,293.2 450.3,303.1 438.0,307.4 C425.7,311.7 411.3,311.2 399.0,310.4 C386.7,309.6 375.7,304.2 364.0,302.4 C352.3,300.6 337.3,297.4 329.0,299.4 C320.7,301.4 316.2,307.2 314.0,314.4 C311.8,321.6 317.0,334.1 316.0,342.4 C315.0,350.7 313.0,359.7 308.0,364.4 C303.0,369.1 296.0,371.2 286.0,370.4 C276.0,369.6 262.7,364.7 248.0,359.4 C233.3,354.1 214.8,345.7 198.0,338.4 C181.2,331.1 164.7,323.2 147.0,315.4 C129.3,307.6 107.8,299.7 92.0,291.4 C76.2,283.1 61.0,272.7 52.0,265.4 C43.0,258.1 41.2,253.2 38.0,247.4 C34.8,241.6 33.3,237.1 33.0,230.4Z" fill="none" stroke="#000" stroke-width="26" transform="translate(3 -19)"/></g><path d="M33.0,230.4 C32.7,223.7 33.5,217.1 36.0,207.4 C38.5,197.7 42.3,184.1 48.0,172.4 C53.7,160.7 60.7,149.1 70.0,137.4 C79.3,125.7 91.7,114.4 104.0,102.4 C116.3,90.4 129.0,76.7 144.0,65.4 C159.0,54.1 177.5,41.4 194.0,34.4 C210.5,27.4 225.7,24.1 243.0,23.4 C260.3,22.7 278.5,26.1 298.0,30.4 C317.5,34.7 340.0,39.6 360.0,49.4 C380.0,59.2 401.7,75.2 418.0,89.4 C434.3,103.6 447.2,120.2 458.0,134.4 C468.8,148.6 477.2,160.6 483.0,174.4 C488.8,188.2 491.8,204.1 493.0,217.4 C494.2,230.7 493.3,243.2 490.0,254.4 C486.7,265.6 481.7,275.6 473.0,284.4 C464.3,293.2 450.3,303.1 438.0,307.4 C425.7,311.7 411.3,311.2 399.0,310.4 C386.7,309.6 375.7,304.2 364.0,302.4 C352.3,300.6 337.3,297.4 329.0,299.4 C320.7,301.4 316.2,307.2 314.0,314.4 C311.8,321.6 317.0,334.1 316.0,342.4 C315.0,350.7 313.0,359.7 308.0,364.4 C303.0,369.1 296.0,371.2 286.0,370.4 C276.0,369.6 262.7,364.7 248.0,359.4 C233.3,354.1 214.8,345.7 198.0,338.4 C181.2,331.1 164.7,323.2 147.0,315.4 C129.3,307.6 107.8,299.7 92.0,291.4 C76.2,283.1 61.0,272.7 52.0,265.4 C43.0,258.1 41.2,253.2 38.0,247.4 C34.8,241.6 33.3,237.1 33.0,230.4Z" fill="none" stroke="#000" stroke-opacity="0.25" stroke-width="3"/></g><ellipse cx="203" cy="200" rx="13" ry="8" transform="rotate(35 203 200)" fill="none" stroke="#f6e814" stroke-width="2.4"/><ellipse cx="292" cy="245" rx="17" ry="12" transform="rotate(10 292 245)" fill="none" stroke="#f6e814" stroke-width="2.4"/><ellipse cx="330" cy="284" rx="19" ry="11" transform="rotate(5 330 284)" fill="none" stroke="#f6e814" stroke-width="2.4"/><ellipse cx="282" cy="295" rx="20" ry="8" transform="rotate(50 282 295)" fill="none" stroke="#f6e814" stroke-width="2.4"/></g>
<text x="155.00" y="80.10" font-size="12.00" textLength="53.0" lengthAdjust="spacing">Network 1</text>
<text x="153.60" y="238.10" font-size="12.00" textLength="55.7" lengthAdjust="spacing">Network 2</text>
<text x="30.10" y="97.30" font-size="11.30" textLength="33.0" lengthAdjust="spacing">aMCC</text>
<text x="-0.60" y="138.80" font-size="11.30" textLength="32.6" lengthAdjust="spacing">pACC</text>
<text x="18.00" y="188.00" font-size="11.30" textLength="37.7" lengthAdjust="spacing">sgACC</text>
<text x="276.20" y="82.80" font-size="11.30" textLength="29.9" lengthAdjust="spacing">dpIns</text>
<text x="309.10" y="111.70" font-size="11.30" textLength="32.9" lengthAdjust="spacing">dmIns</text>
<text x="308.90" y="174.20" font-size="11.30" textLength="40.7" lengthAdjust="spacing">mvAIns</text>
<text x="278.40" y="188.20" font-size="11.30" textLength="32.6" lengthAdjust="spacing">lvAIns</text>
<line x1="54.3" y1="100.0" x2="79.2" y2="119.2" stroke="#111" stroke-width="1.25"/>
<polygon points="79.8,119.7 73.8,117.7 76.4,114.4" fill="#111"/>
<line x1="37.3" y1="134.9" x2="60.4" y2="144.2" stroke="#111" stroke-width="1.25"/>
<polygon points="61.1,144.5 54.8,144.2 56.4,140.3" fill="#111"/>
<line x1="50.5" y1="173.4" x2="79.2" y2="157.7" stroke="#111" stroke-width="1.25"/>
<polygon points="79.9,157.3 75.6,162.0 73.6,158.4" fill="#111"/>
<line x1="277.0" y1="87.2" x2="243.9" y2="134.4" stroke="#111" stroke-width="1.25"/>
<polygon points="243.4,135.1 245.2,128.9 248.6,131.3" fill="#111"/>
<line x1="305.6" y1="110.8" x2="262.7" y2="143.7" stroke="#111" stroke-width="1.25"/>
<polygon points="262.1,144.2 265.5,138.9 268.1,142.2" fill="#111"/>
<line x1="304.7" y1="170.8" x2="275.8" y2="160.6" stroke="#111" stroke-width="1.25"/>
<polygon points="275.0,160.3 281.4,160.4 280.0,164.3" fill="#111"/>
<line x1="275.8" y1="178.7" x2="264.9" y2="163.8" stroke="#111" stroke-width="1.25"/>
<polygon points="264.4,163.2 269.7,166.8 266.3,169.2" fill="#111"/>
<rect x="427.90" y="99.10" width="34.90" height="35.35" fill="#4d1b48"/>
<rect x="462.70" y="99.10" width="36.00" height="35.35" fill="#21112f"/>
<rect x="498.60" y="99.10" width="36.00" height="35.35" fill="#1d0f2d"/>
<rect x="534.50" y="99.10" width="36.00" height="35.35" fill="#0f0a23"/>
<rect x="570.40" y="99.10" width="36.00" height="35.35" fill="#241232"/>
<rect x="606.30" y="99.10" width="36.00" height="35.35" fill="#130b25"/>
<rect x="642.20" y="99.10" width="36.00" height="35.35" fill="#2d1638"/>
<rect x="427.90" y="134.35" width="34.90" height="35.35" fill="#1d0f2d"/>
<rect x="462.70" y="134.35" width="36.00" height="35.35" fill="#901b58"/>
<rect x="498.60" y="134.35" width="36.00" height="35.35" fill="#511c4a"/>
<rect x="534.50" y="134.35" width="36.00" height="35.35" fill="#3e1a42"/>
<rect x="570.40" y="134.35" width="36.00" height="35.35" fill="#7f1d57"/>
<rect x="606.30" y="134.35" width="36.00" height="35.35" fill="#221231"/>
<rect x="642.20" y="134.35" width="36.00" height="35.35" fill="#221231"/>
<line x1="462.70" y1="99.10" x2="462.70" y2="169.60" stroke="#ddd6e0" stroke-width="0.55"/>
<line x1="498.60" y1="99.10" x2="498.60" y2="169.60" stroke="#ddd6e0" stroke-width="0.55"/>
<line x1="534.50" y1="99.10" x2="534.50" y2="169.60" stroke="#ddd6e0" stroke-width="0.55"/>
<line x1="570.40" y1="99.10" x2="570.40" y2="169.60" stroke="#ddd6e0" stroke-width="0.55"/>
<line x1="606.30" y1="99.10" x2="606.30" y2="169.60" stroke="#ddd6e0" stroke-width="0.55"/>
<line x1="642.20" y1="99.10" x2="642.20" y2="169.60" stroke="#ddd6e0" stroke-width="0.55"/>
<line x1="427.90" y1="134.35" x2="678.10" y2="134.35" stroke="#ddd6e0" stroke-width="0.55"/>
<text x="444.85" y="119.42" font-size="7.2" text-anchor="middle" style="fill:#fff;stroke:none;font-family:'DejaVu Sans','Liberation Sans',sans-serif">★</text>
<text x="480.75" y="154.67" font-size="7.2" text-anchor="middle" style="fill:#fff;stroke:none;font-family:'DejaVu Sans','Liberation Sans',sans-serif">★</text>
<text x="588.45" y="154.67" font-size="7.2" text-anchor="middle" style="fill:#fff;stroke:none;font-family:'DejaVu Sans','Liberation Sans',sans-serif">★</text>
<line x1="444.85" y1="95.3" x2="444.85" y2="99.10" stroke="#222" stroke-width="0.9"/>
<text font-size="9.70" textLength="32.7" lengthAdjust="spacing" transform="translate(447.65 89.80) rotate(-90)">Default</text>
<line x1="480.75" y1="95.3" x2="480.75" y2="99.10" stroke="#222" stroke-width="0.9"/>
<text font-size="9.70" textLength="63.0" lengthAdjust="spacing" transform="translate(483.55 89.80) rotate(-90)">Somatomotor</text>
<line x1="516.65" y1="95.3" x2="516.65" y2="99.10" stroke="#222" stroke-width="0.9"/>
<text font-size="9.70" textLength="26.6" lengthAdjust="spacing" transform="translate(519.45 89.80) rotate(-90)">Visual</text>
<line x1="552.55" y1="95.3" x2="552.55" y2="99.10" stroke="#222" stroke-width="0.9"/>
<text font-size="9.70" textLength="39.9" lengthAdjust="spacing" transform="translate(555.35 89.80) rotate(-90)">DorsAttn</text>
<line x1="588.45" y1="95.3" x2="588.45" y2="99.10" stroke="#222" stroke-width="0.9"/>
<text font-size="9.70" textLength="56.0" lengthAdjust="spacing" transform="translate(591.25 89.80) rotate(-90)">Sal/VenAttn</text>
<line x1="624.35" y1="95.3" x2="624.35" y2="99.10" stroke="#222" stroke-width="0.9"/>
<text font-size="9.70" textLength="30.0" lengthAdjust="spacing" transform="translate(627.15 89.80) rotate(-90)">Limbic</text>
<line x1="660.25" y1="95.3" x2="660.25" y2="99.10" stroke="#222" stroke-width="0.9"/>
<text font-size="9.70" textLength="34.5" lengthAdjust="spacing" transform="translate(663.05 89.80) rotate(-90)">Control</text>
<line x1="423.3" y1="116.72" x2="427.90" y2="116.72" stroke="#222" stroke-width="0.9"/>
<line x1="423.3" y1="151.97" x2="427.90" y2="151.97" stroke="#222" stroke-width="0.9"/>
<text x="365.60" y="119.70" font-size="12.00" textLength="52.8" lengthAdjust="spacing">Network 1</text>
<text x="363.60" y="155.30" font-size="12.00" textLength="55.4" lengthAdjust="spacing">Network 2</text>
<text x="508.70" y="16.60" font-size="11.70" textLength="88.5" lengthAdjust="spacing">Yeo parcellation</text>
<text x="505.00" y="198.00" font-size="11.70" textLength="97.0" lengthAdjust="spacing">Laird parcellation</text>
<rect x="429.20" y="311.90" width="14.54" height="15.50" fill="#551c4b"/>
<rect x="443.64" y="311.90" width="15.74" height="15.50" fill="#21112f"/>
<rect x="459.28" y="311.90" width="15.74" height="15.50" fill="#261333"/>
<rect x="474.92" y="311.90" width="15.74" height="15.50" fill="#0d0922"/>
<rect x="490.56" y="311.90" width="15.74" height="15.50" fill="#401a43"/>
<rect x="506.20" y="311.90" width="15.74" height="15.50" fill="#180d29"/>
<rect x="521.84" y="311.90" width="15.74" height="15.50" fill="#140c27"/>
<rect x="537.48" y="311.90" width="15.74" height="15.50" fill="#0f0a23"/>
<rect x="553.12" y="311.90" width="15.74" height="15.50" fill="#0d0922"/>
<rect x="568.76" y="311.90" width="15.74" height="15.50" fill="#110b24"/>
<rect x="584.40" y="311.90" width="15.74" height="15.50" fill="#0f0a23"/>
<rect x="600.04" y="311.90" width="15.74" height="15.50" fill="#2d1638"/>
<rect x="615.68" y="311.90" width="15.74" height="15.50" fill="#34193d"/>
<rect x="631.32" y="311.90" width="15.74" height="15.50" fill="#261333"/>
<rect x="646.96" y="311.90" width="15.74" height="15.50" fill="#2d1638"/>
<rect x="662.60" y="311.90" width="15.74" height="15.50" fill="#0f0a23"/>
<rect x="429.20" y="327.30" width="14.54" height="15.50" fill="#221231"/>
<rect x="443.64" y="327.30" width="15.74" height="15.50" fill="#831d58"/>
<rect x="459.28" y="327.30" width="15.74" height="15.50" fill="#4d1b48"/>
<rect x="474.92" y="327.30" width="15.74" height="15.50" fill="#0f0a23"/>
<rect x="490.56" y="327.30" width="15.74" height="15.50" fill="#831d58"/>
<rect x="506.20" y="327.30" width="15.74" height="15.50" fill="#551c4b"/>
<rect x="521.84" y="327.30" width="15.74" height="15.50" fill="#401a43"/>
<rect x="537.48" y="327.30" width="15.74" height="15.50" fill="#7a1e57"/>
<rect x="553.12" y="327.30" width="15.74" height="15.50" fill="#441b44"/>
<rect x="568.76" y="327.30" width="15.74" height="15.50" fill="#6e1f56"/>
<rect x="584.40" y="327.30" width="15.74" height="15.50" fill="#21112f"/>
<rect x="600.04" y="327.30" width="15.74" height="15.50" fill="#38193f"/>
<rect x="615.68" y="327.30" width="15.74" height="15.50" fill="#401a43"/>
<rect x="631.32" y="327.30" width="15.74" height="15.50" fill="#401a43"/>
<rect x="646.96" y="327.30" width="15.74" height="15.50" fill="#691e54"/>
<rect x="662.60" y="327.30" width="15.74" height="15.50" fill="#2d1638"/>
<line x1="443.64" y1="311.90" x2="443.64" y2="342.70" stroke="#ddd6e0" stroke-width="0.55"/>
<line x1="459.28" y1="311.90" x2="459.28" y2="342.70" stroke="#ddd6e0" stroke-width="0.55"/>
<line x1="474.92" y1="311.90" x2="474.92" y2="342.70" stroke="#ddd6e0" stroke-width="0.55"/>
<line x1="490.56" y1="311.90" x2="490.56" y2="342.70" stroke="#ddd6e0" stroke-width="0.55"/>
<line x1="506.20" y1="311.90" x2="506.20" y2="342.70" stroke="#ddd6e0" stroke-width="0.55"/>
<line x1="521.84" y1="311.90" x2="521.84" y2="342.70" stroke="#ddd6e0" stroke-width="0.55"/>
<line x1="537.48" y1="311.90" x2="537.48" y2="342.70" stroke="#ddd6e0" stroke-width="0.55"/>
<line x1="553.12" y1="311.90" x2="553.12" y2="342.70" stroke="#ddd6e0" stroke-width="0.55"/>
<line x1="568.76" y1="311.90" x2="568.76" y2="342.70" stroke="#ddd6e0" stroke-width="0.55"/>
<line x1="584.40" y1="311.90" x2="584.40" y2="342.70" stroke="#ddd6e0" stroke-width="0.55"/>
<line x1="600.04" y1="311.90" x2="600.04" y2="342.70" stroke="#ddd6e0" stroke-width="0.55"/>
<line x1="615.68" y1="311.90" x2="615.68" y2="342.70" stroke="#ddd6e0" stroke-width="0.55"/>
<line x1="631.32" y1="311.90" x2="631.32" y2="342.70" stroke="#ddd6e0" stroke-width="0.55"/>
<line x1="646.96" y1="311.90" x2="646.96" y2="342.70" stroke="#ddd6e0" stroke-width="0.55"/>
<line x1="662.60" y1="311.90" x2="662.60" y2="342.70" stroke="#ddd6e0" stroke-width="0.55"/>
<line x1="429.20" y1="327.30" x2="678.24" y2="327.30" stroke="#ddd6e0" stroke-width="0.55"/>
<text x="483.24" y="322.30" font-size="7.2" text-anchor="middle" style="fill:#fff;stroke:none;font-family:'DejaVu Sans','Liberation Sans',sans-serif">★</text>
<text x="451.96" y="337.70" font-size="7.2" text-anchor="middle" style="fill:#fff;stroke:none;font-family:'DejaVu Sans','Liberation Sans',sans-serif">★</text>
<text x="498.88" y="337.70" font-size="7.2" text-anchor="middle" style="fill:#fff;stroke:none;font-family:'DejaVu Sans','Liberation Sans',sans-serif">★</text>
<text x="655.28" y="337.70" font-size="7.2" text-anchor="middle" style="fill:#fff;stroke:none;font-family:'DejaVu Sans','Liberation Sans',sans-serif">★</text>
<line x1="436.62" y1="308" x2="436.62" y2="311.90" stroke="#222" stroke-width="0.9"/>
<text font-size="9.70" textLength="93.1" lengthAdjust="spacing" transform="translate(439.12 302.30) rotate(-90)">Emo/Interoception2</text>
<line x1="452.26" y1="308" x2="452.26" y2="311.90" stroke="#222" stroke-width="0.9"/>
<text font-size="9.70" textLength="70.0" lengthAdjust="spacing" transform="translate(454.76 302.30) rotate(-90)">DivergentCog5</text>
<line x1="467.90" y1="308" x2="467.90" y2="311.90" stroke="#222" stroke-width="0.9"/>
<text font-size="9.70" textLength="93.1" lengthAdjust="spacing" transform="translate(470.40 302.30) rotate(-90)">Emo/Interoception1</text>
<line x1="483.54" y1="308" x2="483.54" y2="311.90" stroke="#222" stroke-width="0.9"/>
<text font-size="9.70" textLength="93.1" lengthAdjust="spacing" transform="translate(486.04 302.30) rotate(-90)">Emo/Interoception3</text>
<line x1="499.18" y1="308" x2="499.18" y2="311.90" stroke="#222" stroke-width="0.9"/>
<text font-size="9.70" textLength="93.1" lengthAdjust="spacing" transform="translate(501.68 302.30) rotate(-90)">Emo/Interoception4</text>
<line x1="514.82" y1="308" x2="514.82" y2="311.90" stroke="#222" stroke-width="0.9"/>
<text font-size="9.70" textLength="70.0" lengthAdjust="spacing" transform="translate(517.32 302.30) rotate(-90)">Mot/Visspatial1</text>
<line x1="530.46" y1="308" x2="530.46" y2="311.90" stroke="#222" stroke-width="0.9"/>
<text font-size="9.70" textLength="70.0" lengthAdjust="spacing" transform="translate(532.96 302.30) rotate(-90)">Mot/Visspatial2</text>
<line x1="546.10" y1="308" x2="546.10" y2="311.90" stroke="#222" stroke-width="0.9"/>
<text font-size="9.70" textLength="70.0" lengthAdjust="spacing" transform="translate(548.60 302.30) rotate(-90)">Mot/Visspatial3</text>
<line x1="561.74" y1="308" x2="561.74" y2="311.90" stroke="#222" stroke-width="0.9"/>
<text font-size="9.70" textLength="70.0" lengthAdjust="spacing" transform="translate(564.24 302.30) rotate(-90)">Mot/Visspatial4</text>
<line x1="577.38" y1="308" x2="577.38" y2="311.90" stroke="#222" stroke-width="0.9"/>
<text font-size="9.70" textLength="33.0" lengthAdjust="spacing" transform="translate(579.88 302.30) rotate(-90)">Visual1</text>
<line x1="593.02" y1="308" x2="593.02" y2="311.90" stroke="#222" stroke-width="0.9"/>
<text font-size="9.70" textLength="33.0" lengthAdjust="spacing" transform="translate(595.52 302.30) rotate(-90)">Visual2</text>
<line x1="608.66" y1="308" x2="608.66" y2="311.90" stroke="#222" stroke-width="0.9"/>
<text font-size="9.70" textLength="33.0" lengthAdjust="spacing" transform="translate(611.16 302.30) rotate(-90)">Visual3</text>
<line x1="624.30" y1="308" x2="624.30" y2="311.90" stroke="#222" stroke-width="0.9"/>
<text font-size="9.70" textLength="70.0" lengthAdjust="spacing" transform="translate(626.80 302.30) rotate(-90)">DivergentCog1</text>
<line x1="639.94" y1="308" x2="639.94" y2="311.90" stroke="#222" stroke-width="0.9"/>
<text font-size="9.70" textLength="70.0" lengthAdjust="spacing" transform="translate(642.44 302.30) rotate(-90)">DivergentCog3</text>
<line x1="655.58" y1="308" x2="655.58" y2="311.90" stroke="#222" stroke-width="0.9"/>
<text font-size="9.70" textLength="70.0" lengthAdjust="spacing" transform="translate(658.08 302.30) rotate(-90)">DivergentCog4</text>
<line x1="671.22" y1="308" x2="671.22" y2="311.90" stroke="#222" stroke-width="0.9"/>
<text font-size="9.70" textLength="70.0" lengthAdjust="spacing" transform="translate(673.72 302.30) rotate(-90)">DivergentCog6</text>
<line x1="424.4" y1="319.60" x2="429.20" y2="319.60" stroke="#222" stroke-width="0.9"/>
<line x1="424.4" y1="335.00" x2="429.20" y2="335.00" stroke="#222" stroke-width="0.9"/>
<text x="365.60" y="322.60" font-size="12.00" textLength="52.8" lengthAdjust="spacing">Network 1</text>
<text x="363.60" y="338.70" font-size="12.00" textLength="55.4" lengthAdjust="spacing">Network 2</text>
<rect x="428.2" y="359.2" width="250.4" height="7.8" fill="url(#cb)" stroke="#111" stroke-width="0.6"/>
<line x1="428.40" y1="367" x2="428.40" y2="370.6" stroke="#222" stroke-width="0.9"/>
<text x="428.40" y="383.80" font-size="10.60" text-anchor="middle">0</text>
<line x1="453.40" y1="367" x2="453.40" y2="370.6" stroke="#222" stroke-width="0.9"/>
<text x="447.05" y="383.80" font-size="10.60" textLength="12.7" lengthAdjust="spacing">0.1</text>
<line x1="478.40" y1="367" x2="478.40" y2="370.6" stroke="#222" stroke-width="0.9"/>
<text x="471.65" y="383.80" font-size="10.60" textLength="13.5" lengthAdjust="spacing">0.2</text>
<line x1="503.40" y1="367" x2="503.40" y2="370.6" stroke="#222" stroke-width="0.9"/>
<text x="496.65" y="383.80" font-size="10.60" textLength="13.5" lengthAdjust="spacing">0.3</text>
<line x1="528.40" y1="367" x2="528.40" y2="370.6" stroke="#222" stroke-width="0.9"/>
<text x="521.65" y="383.80" font-size="10.60" textLength="13.5" lengthAdjust="spacing">0.4</text>
<line x1="553.40" y1="367" x2="553.40" y2="370.6" stroke="#222" stroke-width="0.9"/>
<text x="546.65" y="383.80" font-size="10.60" textLength="13.5" lengthAdjust="spacing">0.5</text>
<line x1="578.40" y1="367" x2="578.40" y2="370.6" stroke="#222" stroke-width="0.9"/>
<text x="571.65" y="383.80" font-size="10.60" textLength="13.5" lengthAdjust="spacing">0.6</text>
<line x1="603.40" y1="367" x2="603.40" y2="370.6" stroke="#222" stroke-width="0.9"/>
<text x="596.65" y="383.80" font-size="10.60" textLength="13.5" lengthAdjust="spacing">0.7</text>
<line x1="628.40" y1="367" x2="628.40" y2="370.6" stroke="#222" stroke-width="0.9"/>
<text x="621.65" y="383.80" font-size="10.60" textLength="13.5" lengthAdjust="spacing">0.8</text>
<line x1="653.40" y1="367" x2="653.40" y2="370.6" stroke="#222" stroke-width="0.9"/>
<text x="646.65" y="383.80" font-size="10.60" textLength="13.5" lengthAdjust="spacing">0.9</text>
<line x1="678.40" y1="367" x2="678.40" y2="370.6" stroke="#222" stroke-width="0.9"/>
<text x="672.10" y="383.80" font-size="10.60" textLength="12.6" lengthAdjust="spacing">1.0</text>
<text x="521.00" y="399.60" font-size="11.20" textLength="68.5" lengthAdjust="spacing">Dice overlap</text>
</svg></body></html>
